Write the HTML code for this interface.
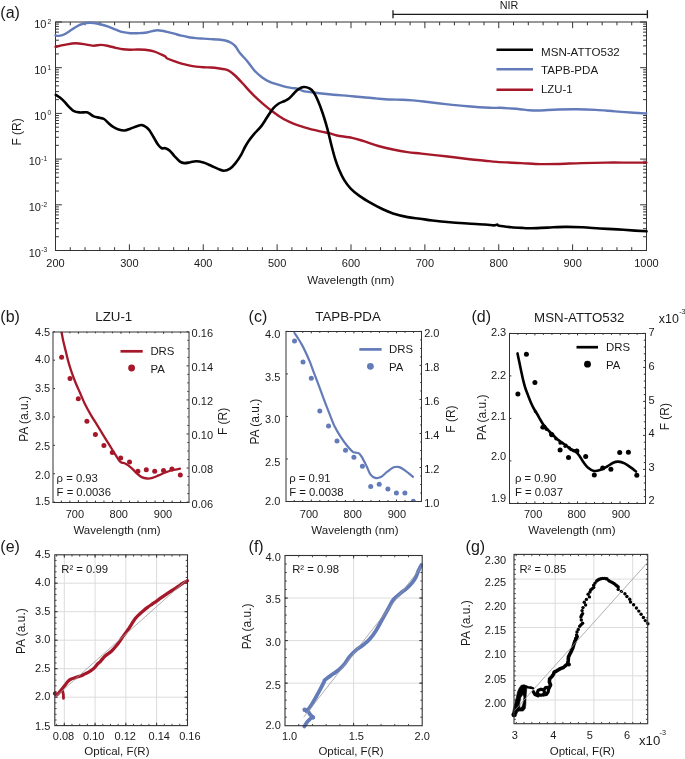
<!DOCTYPE html>
<html><head><meta charset="utf-8"><title>Figure</title>
<style>html,body{margin:0;padding:0;background:#fff;overflow:hidden;width:685px;height:759px;}svg{display:block;will-change:transform;}text{font-family:"Liberation Sans", sans-serif;}</style>
</head><body>
<svg width="685" height="759" viewBox="0 0 685 759" font-family='"Liberation Sans", sans-serif'>
<line x1="70.28" y1="250.5" x2="70.28" y2="247.2" stroke="#333" stroke-width="1"/>
<line x1="70.28" y1="22" x2="70.28" y2="25.3" stroke="#333" stroke-width="1"/>
<line x1="85.05" y1="250.5" x2="85.05" y2="247.2" stroke="#333" stroke-width="1"/>
<line x1="85.05" y1="22" x2="85.05" y2="25.3" stroke="#333" stroke-width="1"/>
<line x1="99.83" y1="250.5" x2="99.83" y2="247.2" stroke="#333" stroke-width="1"/>
<line x1="99.83" y1="22" x2="99.83" y2="25.3" stroke="#333" stroke-width="1"/>
<line x1="114.6" y1="250.5" x2="114.6" y2="247.2" stroke="#333" stroke-width="1"/>
<line x1="114.6" y1="22" x2="114.6" y2="25.3" stroke="#333" stroke-width="1"/>
<line x1="129.38" y1="250.5" x2="129.38" y2="244.3" stroke="#333" stroke-width="1"/>
<line x1="129.38" y1="22" x2="129.38" y2="28.2" stroke="#333" stroke-width="1"/>
<line x1="144.15" y1="250.5" x2="144.15" y2="247.2" stroke="#333" stroke-width="1"/>
<line x1="144.15" y1="22" x2="144.15" y2="25.3" stroke="#333" stroke-width="1"/>
<line x1="158.93" y1="250.5" x2="158.93" y2="247.2" stroke="#333" stroke-width="1"/>
<line x1="158.93" y1="22" x2="158.93" y2="25.3" stroke="#333" stroke-width="1"/>
<line x1="173.7" y1="250.5" x2="173.7" y2="247.2" stroke="#333" stroke-width="1"/>
<line x1="173.7" y1="22" x2="173.7" y2="25.3" stroke="#333" stroke-width="1"/>
<line x1="188.47" y1="250.5" x2="188.47" y2="247.2" stroke="#333" stroke-width="1"/>
<line x1="188.47" y1="22" x2="188.47" y2="25.3" stroke="#333" stroke-width="1"/>
<line x1="203.25" y1="250.5" x2="203.25" y2="244.3" stroke="#333" stroke-width="1"/>
<line x1="203.25" y1="22" x2="203.25" y2="28.2" stroke="#333" stroke-width="1"/>
<line x1="218.03" y1="250.5" x2="218.03" y2="247.2" stroke="#333" stroke-width="1"/>
<line x1="218.03" y1="22" x2="218.03" y2="25.3" stroke="#333" stroke-width="1"/>
<line x1="232.8" y1="250.5" x2="232.8" y2="247.2" stroke="#333" stroke-width="1"/>
<line x1="232.8" y1="22" x2="232.8" y2="25.3" stroke="#333" stroke-width="1"/>
<line x1="247.57" y1="250.5" x2="247.57" y2="247.2" stroke="#333" stroke-width="1"/>
<line x1="247.57" y1="22" x2="247.57" y2="25.3" stroke="#333" stroke-width="1"/>
<line x1="262.35" y1="250.5" x2="262.35" y2="247.2" stroke="#333" stroke-width="1"/>
<line x1="262.35" y1="22" x2="262.35" y2="25.3" stroke="#333" stroke-width="1"/>
<line x1="277.12" y1="250.5" x2="277.12" y2="244.3" stroke="#333" stroke-width="1"/>
<line x1="277.12" y1="22" x2="277.12" y2="28.2" stroke="#333" stroke-width="1"/>
<line x1="291.9" y1="250.5" x2="291.9" y2="247.2" stroke="#333" stroke-width="1"/>
<line x1="291.9" y1="22" x2="291.9" y2="25.3" stroke="#333" stroke-width="1"/>
<line x1="306.68" y1="250.5" x2="306.68" y2="247.2" stroke="#333" stroke-width="1"/>
<line x1="306.68" y1="22" x2="306.68" y2="25.3" stroke="#333" stroke-width="1"/>
<line x1="321.45" y1="250.5" x2="321.45" y2="247.2" stroke="#333" stroke-width="1"/>
<line x1="321.45" y1="22" x2="321.45" y2="25.3" stroke="#333" stroke-width="1"/>
<line x1="336.23" y1="250.5" x2="336.23" y2="247.2" stroke="#333" stroke-width="1"/>
<line x1="336.23" y1="22" x2="336.23" y2="25.3" stroke="#333" stroke-width="1"/>
<line x1="351" y1="250.5" x2="351" y2="244.3" stroke="#333" stroke-width="1"/>
<line x1="351" y1="22" x2="351" y2="28.2" stroke="#333" stroke-width="1"/>
<line x1="365.77" y1="250.5" x2="365.77" y2="247.2" stroke="#333" stroke-width="1"/>
<line x1="365.77" y1="22" x2="365.77" y2="25.3" stroke="#333" stroke-width="1"/>
<line x1="380.55" y1="250.5" x2="380.55" y2="247.2" stroke="#333" stroke-width="1"/>
<line x1="380.55" y1="22" x2="380.55" y2="25.3" stroke="#333" stroke-width="1"/>
<line x1="395.32" y1="250.5" x2="395.32" y2="247.2" stroke="#333" stroke-width="1"/>
<line x1="395.32" y1="22" x2="395.32" y2="25.3" stroke="#333" stroke-width="1"/>
<line x1="410.1" y1="250.5" x2="410.1" y2="247.2" stroke="#333" stroke-width="1"/>
<line x1="410.1" y1="22" x2="410.1" y2="25.3" stroke="#333" stroke-width="1"/>
<line x1="424.88" y1="250.5" x2="424.88" y2="244.3" stroke="#333" stroke-width="1"/>
<line x1="424.88" y1="22" x2="424.88" y2="28.2" stroke="#333" stroke-width="1"/>
<line x1="439.65" y1="250.5" x2="439.65" y2="247.2" stroke="#333" stroke-width="1"/>
<line x1="439.65" y1="22" x2="439.65" y2="25.3" stroke="#333" stroke-width="1"/>
<line x1="454.43" y1="250.5" x2="454.43" y2="247.2" stroke="#333" stroke-width="1"/>
<line x1="454.43" y1="22" x2="454.43" y2="25.3" stroke="#333" stroke-width="1"/>
<line x1="469.2" y1="250.5" x2="469.2" y2="247.2" stroke="#333" stroke-width="1"/>
<line x1="469.2" y1="22" x2="469.2" y2="25.3" stroke="#333" stroke-width="1"/>
<line x1="483.98" y1="250.5" x2="483.98" y2="247.2" stroke="#333" stroke-width="1"/>
<line x1="483.98" y1="22" x2="483.98" y2="25.3" stroke="#333" stroke-width="1"/>
<line x1="498.75" y1="250.5" x2="498.75" y2="244.3" stroke="#333" stroke-width="1"/>
<line x1="498.75" y1="22" x2="498.75" y2="28.2" stroke="#333" stroke-width="1"/>
<line x1="513.52" y1="250.5" x2="513.52" y2="247.2" stroke="#333" stroke-width="1"/>
<line x1="513.52" y1="22" x2="513.52" y2="25.3" stroke="#333" stroke-width="1"/>
<line x1="528.3" y1="250.5" x2="528.3" y2="247.2" stroke="#333" stroke-width="1"/>
<line x1="528.3" y1="22" x2="528.3" y2="25.3" stroke="#333" stroke-width="1"/>
<line x1="543.08" y1="250.5" x2="543.08" y2="247.2" stroke="#333" stroke-width="1"/>
<line x1="543.08" y1="22" x2="543.08" y2="25.3" stroke="#333" stroke-width="1"/>
<line x1="557.85" y1="250.5" x2="557.85" y2="247.2" stroke="#333" stroke-width="1"/>
<line x1="557.85" y1="22" x2="557.85" y2="25.3" stroke="#333" stroke-width="1"/>
<line x1="572.62" y1="250.5" x2="572.62" y2="244.3" stroke="#333" stroke-width="1"/>
<line x1="572.62" y1="22" x2="572.62" y2="28.2" stroke="#333" stroke-width="1"/>
<line x1="587.4" y1="250.5" x2="587.4" y2="247.2" stroke="#333" stroke-width="1"/>
<line x1="587.4" y1="22" x2="587.4" y2="25.3" stroke="#333" stroke-width="1"/>
<line x1="602.17" y1="250.5" x2="602.17" y2="247.2" stroke="#333" stroke-width="1"/>
<line x1="602.17" y1="22" x2="602.17" y2="25.3" stroke="#333" stroke-width="1"/>
<line x1="616.95" y1="250.5" x2="616.95" y2="247.2" stroke="#333" stroke-width="1"/>
<line x1="616.95" y1="22" x2="616.95" y2="25.3" stroke="#333" stroke-width="1"/>
<line x1="631.73" y1="250.5" x2="631.73" y2="247.2" stroke="#333" stroke-width="1"/>
<line x1="631.73" y1="22" x2="631.73" y2="25.3" stroke="#333" stroke-width="1"/>
<line x1="55.5" y1="236.74" x2="58.9" y2="236.74" stroke="#333" stroke-width="1"/>
<line x1="646.5" y1="236.74" x2="643.1" y2="236.74" stroke="#333" stroke-width="1"/>
<line x1="55.5" y1="228.7" x2="58.9" y2="228.7" stroke="#333" stroke-width="1"/>
<line x1="646.5" y1="228.7" x2="643.1" y2="228.7" stroke="#333" stroke-width="1"/>
<line x1="55.5" y1="222.99" x2="58.9" y2="222.99" stroke="#333" stroke-width="1"/>
<line x1="646.5" y1="222.99" x2="643.1" y2="222.99" stroke="#333" stroke-width="1"/>
<line x1="55.5" y1="218.56" x2="58.9" y2="218.56" stroke="#333" stroke-width="1"/>
<line x1="646.5" y1="218.56" x2="643.1" y2="218.56" stroke="#333" stroke-width="1"/>
<line x1="55.5" y1="214.94" x2="58.9" y2="214.94" stroke="#333" stroke-width="1"/>
<line x1="646.5" y1="214.94" x2="643.1" y2="214.94" stroke="#333" stroke-width="1"/>
<line x1="55.5" y1="211.88" x2="58.9" y2="211.88" stroke="#333" stroke-width="1"/>
<line x1="646.5" y1="211.88" x2="643.1" y2="211.88" stroke="#333" stroke-width="1"/>
<line x1="55.5" y1="209.23" x2="58.9" y2="209.23" stroke="#333" stroke-width="1"/>
<line x1="646.5" y1="209.23" x2="643.1" y2="209.23" stroke="#333" stroke-width="1"/>
<line x1="55.5" y1="206.89" x2="58.9" y2="206.89" stroke="#333" stroke-width="1"/>
<line x1="646.5" y1="206.89" x2="643.1" y2="206.89" stroke="#333" stroke-width="1"/>
<line x1="55.5" y1="204.8" x2="61.9" y2="204.8" stroke="#333" stroke-width="1"/>
<line x1="646.5" y1="204.8" x2="640.1" y2="204.8" stroke="#333" stroke-width="1"/>
<line x1="55.5" y1="191.04" x2="58.9" y2="191.04" stroke="#333" stroke-width="1"/>
<line x1="646.5" y1="191.04" x2="643.1" y2="191.04" stroke="#333" stroke-width="1"/>
<line x1="55.5" y1="183" x2="58.9" y2="183" stroke="#333" stroke-width="1"/>
<line x1="646.5" y1="183" x2="643.1" y2="183" stroke="#333" stroke-width="1"/>
<line x1="55.5" y1="177.29" x2="58.9" y2="177.29" stroke="#333" stroke-width="1"/>
<line x1="646.5" y1="177.29" x2="643.1" y2="177.29" stroke="#333" stroke-width="1"/>
<line x1="55.5" y1="172.86" x2="58.9" y2="172.86" stroke="#333" stroke-width="1"/>
<line x1="646.5" y1="172.86" x2="643.1" y2="172.86" stroke="#333" stroke-width="1"/>
<line x1="55.5" y1="169.24" x2="58.9" y2="169.24" stroke="#333" stroke-width="1"/>
<line x1="646.5" y1="169.24" x2="643.1" y2="169.24" stroke="#333" stroke-width="1"/>
<line x1="55.5" y1="166.18" x2="58.9" y2="166.18" stroke="#333" stroke-width="1"/>
<line x1="646.5" y1="166.18" x2="643.1" y2="166.18" stroke="#333" stroke-width="1"/>
<line x1="55.5" y1="163.53" x2="58.9" y2="163.53" stroke="#333" stroke-width="1"/>
<line x1="646.5" y1="163.53" x2="643.1" y2="163.53" stroke="#333" stroke-width="1"/>
<line x1="55.5" y1="161.19" x2="58.9" y2="161.19" stroke="#333" stroke-width="1"/>
<line x1="646.5" y1="161.19" x2="643.1" y2="161.19" stroke="#333" stroke-width="1"/>
<line x1="55.5" y1="159.1" x2="61.9" y2="159.1" stroke="#333" stroke-width="1"/>
<line x1="646.5" y1="159.1" x2="640.1" y2="159.1" stroke="#333" stroke-width="1"/>
<line x1="55.5" y1="145.34" x2="58.9" y2="145.34" stroke="#333" stroke-width="1"/>
<line x1="646.5" y1="145.34" x2="643.1" y2="145.34" stroke="#333" stroke-width="1"/>
<line x1="55.5" y1="137.3" x2="58.9" y2="137.3" stroke="#333" stroke-width="1"/>
<line x1="646.5" y1="137.3" x2="643.1" y2="137.3" stroke="#333" stroke-width="1"/>
<line x1="55.5" y1="131.59" x2="58.9" y2="131.59" stroke="#333" stroke-width="1"/>
<line x1="646.5" y1="131.59" x2="643.1" y2="131.59" stroke="#333" stroke-width="1"/>
<line x1="55.5" y1="127.16" x2="58.9" y2="127.16" stroke="#333" stroke-width="1"/>
<line x1="646.5" y1="127.16" x2="643.1" y2="127.16" stroke="#333" stroke-width="1"/>
<line x1="55.5" y1="123.54" x2="58.9" y2="123.54" stroke="#333" stroke-width="1"/>
<line x1="646.5" y1="123.54" x2="643.1" y2="123.54" stroke="#333" stroke-width="1"/>
<line x1="55.5" y1="120.48" x2="58.9" y2="120.48" stroke="#333" stroke-width="1"/>
<line x1="646.5" y1="120.48" x2="643.1" y2="120.48" stroke="#333" stroke-width="1"/>
<line x1="55.5" y1="117.83" x2="58.9" y2="117.83" stroke="#333" stroke-width="1"/>
<line x1="646.5" y1="117.83" x2="643.1" y2="117.83" stroke="#333" stroke-width="1"/>
<line x1="55.5" y1="115.49" x2="58.9" y2="115.49" stroke="#333" stroke-width="1"/>
<line x1="646.5" y1="115.49" x2="643.1" y2="115.49" stroke="#333" stroke-width="1"/>
<line x1="55.5" y1="113.4" x2="61.9" y2="113.4" stroke="#333" stroke-width="1"/>
<line x1="646.5" y1="113.4" x2="640.1" y2="113.4" stroke="#333" stroke-width="1"/>
<line x1="55.5" y1="99.64" x2="58.9" y2="99.64" stroke="#333" stroke-width="1"/>
<line x1="646.5" y1="99.64" x2="643.1" y2="99.64" stroke="#333" stroke-width="1"/>
<line x1="55.5" y1="91.6" x2="58.9" y2="91.6" stroke="#333" stroke-width="1"/>
<line x1="646.5" y1="91.6" x2="643.1" y2="91.6" stroke="#333" stroke-width="1"/>
<line x1="55.5" y1="85.89" x2="58.9" y2="85.89" stroke="#333" stroke-width="1"/>
<line x1="646.5" y1="85.89" x2="643.1" y2="85.89" stroke="#333" stroke-width="1"/>
<line x1="55.5" y1="81.46" x2="58.9" y2="81.46" stroke="#333" stroke-width="1"/>
<line x1="646.5" y1="81.46" x2="643.1" y2="81.46" stroke="#333" stroke-width="1"/>
<line x1="55.5" y1="77.84" x2="58.9" y2="77.84" stroke="#333" stroke-width="1"/>
<line x1="646.5" y1="77.84" x2="643.1" y2="77.84" stroke="#333" stroke-width="1"/>
<line x1="55.5" y1="74.78" x2="58.9" y2="74.78" stroke="#333" stroke-width="1"/>
<line x1="646.5" y1="74.78" x2="643.1" y2="74.78" stroke="#333" stroke-width="1"/>
<line x1="55.5" y1="72.13" x2="58.9" y2="72.13" stroke="#333" stroke-width="1"/>
<line x1="646.5" y1="72.13" x2="643.1" y2="72.13" stroke="#333" stroke-width="1"/>
<line x1="55.5" y1="69.79" x2="58.9" y2="69.79" stroke="#333" stroke-width="1"/>
<line x1="646.5" y1="69.79" x2="643.1" y2="69.79" stroke="#333" stroke-width="1"/>
<line x1="55.5" y1="67.7" x2="61.9" y2="67.7" stroke="#333" stroke-width="1"/>
<line x1="646.5" y1="67.7" x2="640.1" y2="67.7" stroke="#333" stroke-width="1"/>
<line x1="55.5" y1="53.94" x2="58.9" y2="53.94" stroke="#333" stroke-width="1"/>
<line x1="646.5" y1="53.94" x2="643.1" y2="53.94" stroke="#333" stroke-width="1"/>
<line x1="55.5" y1="45.9" x2="58.9" y2="45.9" stroke="#333" stroke-width="1"/>
<line x1="646.5" y1="45.9" x2="643.1" y2="45.9" stroke="#333" stroke-width="1"/>
<line x1="55.5" y1="40.19" x2="58.9" y2="40.19" stroke="#333" stroke-width="1"/>
<line x1="646.5" y1="40.19" x2="643.1" y2="40.19" stroke="#333" stroke-width="1"/>
<line x1="55.5" y1="35.76" x2="58.9" y2="35.76" stroke="#333" stroke-width="1"/>
<line x1="646.5" y1="35.76" x2="643.1" y2="35.76" stroke="#333" stroke-width="1"/>
<line x1="55.5" y1="32.14" x2="58.9" y2="32.14" stroke="#333" stroke-width="1"/>
<line x1="646.5" y1="32.14" x2="643.1" y2="32.14" stroke="#333" stroke-width="1"/>
<line x1="55.5" y1="29.08" x2="58.9" y2="29.08" stroke="#333" stroke-width="1"/>
<line x1="646.5" y1="29.08" x2="643.1" y2="29.08" stroke="#333" stroke-width="1"/>
<line x1="55.5" y1="26.43" x2="58.9" y2="26.43" stroke="#333" stroke-width="1"/>
<line x1="646.5" y1="26.43" x2="643.1" y2="26.43" stroke="#333" stroke-width="1"/>
<line x1="55.5" y1="24.09" x2="58.9" y2="24.09" stroke="#333" stroke-width="1"/>
<line x1="646.5" y1="24.09" x2="643.1" y2="24.09" stroke="#333" stroke-width="1"/>
<line x1="55.5" y1="22" x2="61.9" y2="22" stroke="#333" stroke-width="1"/>
<line x1="646.5" y1="22" x2="640.1" y2="22" stroke="#333" stroke-width="1"/>
<rect x="55.5" y="22" width="591" height="228.5" fill="none" stroke="#333" stroke-width="1"/>
<text x="55.5" y="267" font-size="11" text-anchor="middle" fill="#1a1a1a" >200</text>
<text x="129.38" y="267" font-size="11" text-anchor="middle" fill="#1a1a1a" >300</text>
<text x="203.25" y="267" font-size="11" text-anchor="middle" fill="#1a1a1a" >400</text>
<text x="277.12" y="267" font-size="11" text-anchor="middle" fill="#1a1a1a" >500</text>
<text x="351" y="267" font-size="11" text-anchor="middle" fill="#1a1a1a" >600</text>
<text x="424.88" y="267" font-size="11" text-anchor="middle" fill="#1a1a1a" >700</text>
<text x="498.75" y="267" font-size="11" text-anchor="middle" fill="#1a1a1a" >800</text>
<text x="572.62" y="267" font-size="11" text-anchor="middle" fill="#1a1a1a" >900</text>
<text x="646.5" y="267" font-size="11" text-anchor="middle" fill="#1a1a1a" >1000</text>
<text x="350.8" y="284.4" font-size="11.5" text-anchor="middle" fill="#1a1a1a" >Wavelength (nm)</text>
<text x="46.4" y="28.2" font-size="11" text-anchor="end" fill="#1a1a1a" >10</text>
<text x="47.4" y="23.8" font-size="6.6" text-anchor="start" fill="#1a1a1a" >2</text>
<text x="46.4" y="73.9" font-size="11" text-anchor="end" fill="#1a1a1a" >10</text>
<text x="47.4" y="69.5" font-size="6.6" text-anchor="start" fill="#1a1a1a" >1</text>
<text x="46.4" y="119.6" font-size="11" text-anchor="end" fill="#1a1a1a" >10</text>
<text x="47.4" y="115.2" font-size="6.6" text-anchor="start" fill="#1a1a1a" >0</text>
<text x="40.9" y="165.3" font-size="11" text-anchor="end" fill="#1a1a1a" >10</text>
<text x="41.2" y="160.9" font-size="6.6" text-anchor="start" fill="#1a1a1a" >-1</text>
<text x="40.9" y="211" font-size="11" text-anchor="end" fill="#1a1a1a" >10</text>
<text x="41.2" y="206.6" font-size="6.6" text-anchor="start" fill="#1a1a1a" >-2</text>
<text x="40.9" y="256.7" font-size="11" text-anchor="end" fill="#1a1a1a" >10</text>
<text x="41.2" y="252.3" font-size="6.6" text-anchor="start" fill="#1a1a1a" >-3</text>
<text x="0" y="0" font-size="12" text-anchor="middle" fill="#1a1a1a" transform="translate(21,131.9) rotate(-90)">F (R)</text>
<text x="0.3" y="18.4" font-size="16" text-anchor="start" fill="#1a1a1a" >(a)</text>
<line x1="393" y1="14.3" x2="647.4" y2="14.3" stroke="#1a1a1a" stroke-width="1.3"/>
<line x1="393" y1="10.2" x2="393" y2="18.3" stroke="#1a1a1a" stroke-width="1.3"/>
<line x1="647.4" y1="10.2" x2="647.4" y2="18.3" stroke="#1a1a1a" stroke-width="1.3"/>
<text x="509" y="8.8" font-size="10.8" text-anchor="middle" fill="#1a1a1a" >NIR</text>
<line x1="496.5" y1="49.7" x2="533" y2="49.7" stroke="#000" stroke-width="2.5"/>
<line x1="496.5" y1="69.3" x2="533" y2="69.3" stroke="#647bb9" stroke-width="2.5"/>
<line x1="496.5" y1="89.8" x2="533" y2="89.8" stroke="#a5182a" stroke-width="2.5"/>
<text x="541" y="55.8" font-size="11.6" text-anchor="start" fill="#1a1a1a" >MSN-ATTO532</text>
<text x="541" y="74.2" font-size="11.6" text-anchor="start" fill="#1a1a1a" >TAPB-PDA</text>
<text x="541" y="93.2" font-size="11.4" text-anchor="start" fill="#1a1a1a" >LZU-1</text>
<path d="M55.5,35.4 C56.05,35.48 57.38,36.05 58.8,35.9 C60.22,35.75 61.82,35.55 64,34.5 C66.18,33.45 69.37,31.15 71.9,29.6 C74.43,28.05 76.77,26.3 79.2,25.2 C81.63,24.1 84.07,23.37 86.5,23 C88.93,22.63 91.37,22.75 93.8,23 C96.23,23.25 98.67,23.88 101.1,24.5 C103.53,25.12 105.97,25.85 108.4,26.7 C110.83,27.55 113.27,28.68 115.7,29.6 C118.13,30.52 120.57,31.6 123,32.2 C125.43,32.8 127.87,33.03 130.3,33.2 C132.73,33.37 135.15,33.27 137.6,33.2 C140.05,33.13 142.55,33.15 145,32.8 C147.45,32.45 150.12,31.52 152.3,31.1 C154.48,30.68 155.67,30.18 158.1,30.3 C160.53,30.42 164.22,31.23 166.9,31.8 C169.58,32.37 171.77,33.05 174.2,33.7 C176.63,34.35 179.07,35.12 181.5,35.7 C183.93,36.28 186.37,36.8 188.8,37.2 C191.23,37.6 193.67,37.87 196.1,38.1 C198.53,38.33 200.97,38.43 203.4,38.6 C205.83,38.77 208.27,38.95 210.7,39.1 C213.13,39.25 215.57,39.27 218,39.5 C220.43,39.73 223.12,39.97 225.3,40.5 C227.48,41.03 229.4,41.72 231.1,42.7 C232.8,43.68 234.03,44.68 235.5,46.4 C236.97,48.12 237.93,50.53 239.9,53 C241.87,55.47 244.85,58.25 247.3,61.2 C249.75,64.15 252.17,68.03 254.6,70.7 C257.03,73.37 259.47,75.38 261.9,77.2 C264.33,79.02 266.77,80.43 269.2,81.6 C271.63,82.77 274.07,83.4 276.5,84.2 C278.93,85 281.37,85.78 283.8,86.4 C286.23,87.02 288.67,87.47 291.1,87.9 C293.53,88.33 296.15,88.42 298.4,89 C300.65,89.58 301.13,90.7 304.6,91.4 C308.07,92.1 314.33,92.65 319.2,93.2 C324.07,93.75 328.93,94.25 333.8,94.7 C338.67,95.15 343.53,95.48 348.4,95.9 C353.27,96.32 358.13,96.75 363,97.2 C367.87,97.65 373.1,98.22 377.6,98.6 C382.1,98.98 385.95,99.32 390,99.5 C394.05,99.68 398.1,99.55 401.9,99.7 C405.7,99.85 409.15,100.1 412.8,100.4 C416.45,100.7 418.32,100.88 423.8,101.5 C429.28,102.12 438.4,103.3 445.7,104.1 C453,104.9 460.3,105.68 467.6,106.3 C474.9,106.92 484.03,107.55 489.5,107.8 C494.97,108.05 496.75,107.68 500.4,107.8 C504.05,107.92 508.13,108.27 511.4,108.5 C514.67,108.73 516.98,108.9 520,109.2 C523.02,109.5 526.33,110.08 529.5,110.3 C532.67,110.52 534.25,110.63 539,110.5 C543.75,110.37 551.67,109.72 558,109.5 C564.33,109.28 570.68,109.13 577,109.2 C583.32,109.27 589.58,109.53 595.9,109.9 C602.22,110.27 608.57,110.92 614.9,111.4 C621.23,111.88 628.68,112.45 633.9,112.8 C639.12,113.15 644.15,113.38 646.2,113.5" fill="none" stroke="#647bb9" stroke-width="2.4" stroke-linejoin="round" stroke-linecap="round" />
<path d="M55.5,46.8 C57.02,46.48 61.27,45.5 64.6,44.9 C67.93,44.3 71.85,43.25 75.5,43.2 C79.15,43.15 83.45,44.18 86.5,44.6 C89.55,45.02 91.37,45.65 93.8,45.7 C96.23,45.75 98.67,44.85 101.1,44.9 C103.53,44.95 105.97,45.52 108.4,46 C110.83,46.48 113.27,47.25 115.7,47.8 C118.13,48.35 120.57,48.98 123,49.3 C125.43,49.62 127.87,49.67 130.3,49.7 C132.73,49.73 135.15,49.48 137.6,49.5 C140.05,49.52 142.3,49.5 145,49.8 C147.7,50.1 151.12,50.53 153.8,51.3 C156.48,52.07 159.17,53.52 161.1,54.4 C163.03,55.28 164.43,55.95 165.4,56.6 C166.37,57.25 165.43,57.53 166.9,58.3 C168.37,59.07 171.77,60.3 174.2,61.2 C176.63,62.1 179.07,63 181.5,63.7 C183.93,64.4 186.37,64.92 188.8,65.4 C191.23,65.88 193.67,66.3 196.1,66.6 C198.53,66.9 200.97,67.05 203.4,67.2 C205.83,67.35 208.27,67.33 210.7,67.5 C213.13,67.67 215.57,67.88 218,68.2 C220.43,68.52 223.35,68.9 225.3,69.4 C227.25,69.9 228.08,70.18 229.7,71.2 C231.32,72.22 232.9,73.53 235,75.5 C237.1,77.47 239.87,80.4 242.3,83 C244.73,85.6 247.17,88.53 249.6,91.1 C252.03,93.67 254.47,96.1 256.9,98.4 C259.33,100.7 261.77,102.83 264.2,104.9 C266.63,106.97 269.07,108.97 271.5,110.8 C273.93,112.63 276.37,114.32 278.8,115.9 C281.23,117.48 283.67,119.02 286.1,120.3 C288.53,121.58 290.97,122.63 293.4,123.6 C295.83,124.57 298.27,125.32 300.7,126.1 C303.13,126.88 305.57,127.62 308,128.3 C310.43,128.98 312.87,129.6 315.3,130.2 C317.73,130.8 320.17,131.37 322.6,131.9 C325.03,132.43 327.5,132.8 329.9,133.4 C332.3,134 333.3,134.77 337,135.5 C340.7,136.23 347.63,136.85 352.1,137.8 C356.57,138.75 359.42,139.83 363.8,141.2 C368.18,142.57 373.53,144.62 378.4,146 C383.27,147.38 388.13,148.48 393,149.5 C397.87,150.52 402.87,151.42 407.6,152.1 C412.33,152.78 415.08,152.9 421.4,153.6 C427.72,154.3 437.47,155.37 445.5,156.3 C453.53,157.23 463.02,158.47 469.6,159.2 C476.18,159.93 480.43,160.25 485,160.7 C489.57,161.15 490.98,161.5 497,161.9 C503.02,162.3 513.87,162.73 521.1,163.1 C528.33,163.47 534.37,163.95 540.4,164.1 C546.43,164.25 550.47,164.17 557.3,164 C564.13,163.83 573.37,163.33 581.4,163.1 C589.43,162.87 597.47,162.68 605.5,162.6 C613.53,162.52 622.78,162.6 629.6,162.6 C636.42,162.6 643.6,162.6 646.4,162.6" fill="none" stroke="#a5182a" stroke-width="2.4" stroke-linejoin="round" stroke-linecap="round" />
<path d="M55.8,94.9 C56.53,95.38 58.73,96.65 60.2,97.8 C61.67,98.95 63.13,100.28 64.6,101.8 C66.07,103.32 67.53,105.4 69,106.9 C70.47,108.4 71.7,109.88 73.4,110.8 C75.1,111.72 77.02,112.15 79.2,112.4 C81.38,112.65 84.8,112.12 86.5,112.3 C88.2,112.48 88.18,112.82 89.4,113.5 C90.62,114.18 92.1,115.68 93.8,116.4 C95.5,117.12 97.9,117.37 99.6,117.8 C101.3,118.23 102.53,118.13 104,119 C105.47,119.87 106.93,121.73 108.4,123 C109.87,124.27 111.1,125.52 112.8,126.6 C114.5,127.68 116.65,128.85 118.6,129.5 C120.55,130.15 122.55,130.62 124.5,130.5 C126.45,130.38 128.12,129.57 130.3,128.8 C132.48,128.03 135.65,126.52 137.6,125.9 C139.55,125.28 140.53,124.87 142,125.1 C143.47,125.33 145.17,126.45 146.4,127.3 C147.63,128.15 148.17,128.5 149.4,130.2 C150.63,131.9 152.35,135.07 153.8,137.5 C155.25,139.93 156.77,143.02 158.1,144.8 C159.43,146.58 160.58,147.63 161.8,148.2 C163.02,148.77 164.07,147.78 165.4,148.2 C166.73,148.62 168.33,149.43 169.8,150.7 C171.27,151.97 172.5,153.98 174.2,155.8 C175.9,157.62 178.3,160.38 180,161.6 C181.7,162.82 182.68,162.98 184.4,163.1 C186.12,163.22 188.35,162.6 190.3,162.3 C192.25,162 193.92,161.25 196.1,161.3 C198.28,161.35 200.97,161.9 203.4,162.6 C205.83,163.3 208.27,164.45 210.7,165.5 C213.13,166.55 215.82,168.02 218,168.9 C220.18,169.78 221.85,170.8 223.8,170.8 C225.75,170.8 227.75,170.18 229.7,168.9 C231.65,167.62 233.55,165.53 235.5,163.1 C237.45,160.67 239.82,156.98 241.4,154.3 C242.98,151.62 243.73,149.3 245,147 C246.27,144.7 247.5,142.65 249,140.5 C250.5,138.35 251.95,136.5 254,134.1 C256.05,131.7 259.12,128.9 261.3,126.1 C263.48,123.3 265.15,120.22 267.1,117.3 C269.05,114.38 271.05,110.9 273,108.6 C274.95,106.3 276.87,104.77 278.8,103.5 C280.73,102.23 282.9,101.85 284.6,101 C286.3,100.15 287.53,99.57 289,98.4 C290.47,97.23 291.93,95.47 293.4,94 C294.87,92.53 296.1,90.77 297.8,89.6 C299.5,88.43 301.65,87.2 303.6,87 C305.55,86.8 307.8,87.48 309.5,88.4 C311.2,89.32 312.35,90.35 313.8,92.5 C315.25,94.65 316.73,97.88 318.2,101.3 C319.67,104.72 321.27,109.12 322.6,113 C323.93,116.88 325.23,121.32 326.2,124.6 C327.17,127.88 327.48,129.08 328.4,132.7 C329.32,136.32 330.55,141.85 331.7,146.3 C332.85,150.75 334.08,155.52 335.3,159.4 C336.52,163.28 337.53,166.18 339,169.6 C340.47,173.02 342.15,176.73 344.1,179.9 C346.05,183.07 348.15,185.93 350.7,188.6 C353.25,191.27 356,193.47 359.4,195.9 C362.8,198.33 367.2,200.97 371.1,203.2 C375,205.43 379.15,207.6 382.8,209.3 C386.45,211 388.87,212.1 393,213.4 C397.13,214.7 403.1,216.22 407.6,217.1 C412.1,217.98 415.85,218.13 420,218.7 C424.15,219.27 427.5,219.9 432.5,220.5 C437.5,221.1 444.17,221.8 450,222.3 C455.83,222.8 461.67,223.13 467.5,223.5 C473.33,223.87 480.62,224.18 485,224.5 C489.38,224.82 491.75,225.38 493.8,225.4 C495.85,225.42 496.43,224.53 497.3,224.6 C498.17,224.67 496.67,225.37 499,225.8 C501.33,226.23 507.2,226.83 511.3,227.2 C515.4,227.57 520.48,227.82 523.6,228 C526.72,228.18 526.02,228.37 530,228.3 C533.98,228.23 541.67,227.83 547.5,227.6 C553.33,227.37 559.17,226.95 565,226.9 C570.83,226.85 576.67,227.03 582.5,227.3 C588.33,227.57 594.15,228.15 600,228.5 C605.85,228.85 611.77,229.05 617.6,229.4 C623.43,229.75 630.18,230.28 635,230.6 C639.82,230.92 644.58,231.18 646.5,231.3" fill="none" stroke="#000" stroke-width="2.6" stroke-linejoin="round" stroke-linecap="round" />
<line x1="61.36" y1="502.1" x2="61.36" y2="500.6" stroke="#333" stroke-width="1.0"/>
<line x1="61.36" y1="331.8" x2="61.36" y2="333.3" stroke="#333" stroke-width="1.0"/>
<line x1="69.88" y1="502.1" x2="69.88" y2="500.6" stroke="#333" stroke-width="1.0"/>
<line x1="69.88" y1="331.8" x2="69.88" y2="333.3" stroke="#333" stroke-width="1.0"/>
<line x1="78.4" y1="502.1" x2="78.4" y2="500.1" stroke="#333" stroke-width="1.0"/>
<line x1="78.4" y1="331.8" x2="78.4" y2="333.8" stroke="#333" stroke-width="1.0"/>
<line x1="86.92" y1="502.1" x2="86.92" y2="500.6" stroke="#333" stroke-width="1.0"/>
<line x1="86.92" y1="331.8" x2="86.92" y2="333.3" stroke="#333" stroke-width="1.0"/>
<line x1="95.44" y1="502.1" x2="95.44" y2="500.6" stroke="#333" stroke-width="1.0"/>
<line x1="95.44" y1="331.8" x2="95.44" y2="333.3" stroke="#333" stroke-width="1.0"/>
<line x1="103.96" y1="502.1" x2="103.96" y2="500.6" stroke="#333" stroke-width="1.0"/>
<line x1="103.96" y1="331.8" x2="103.96" y2="333.3" stroke="#333" stroke-width="1.0"/>
<line x1="112.48" y1="502.1" x2="112.48" y2="500.6" stroke="#333" stroke-width="1.0"/>
<line x1="112.48" y1="331.8" x2="112.48" y2="333.3" stroke="#333" stroke-width="1.0"/>
<line x1="121" y1="502.1" x2="121" y2="500.1" stroke="#333" stroke-width="1.0"/>
<line x1="121" y1="331.8" x2="121" y2="333.8" stroke="#333" stroke-width="1.0"/>
<line x1="129.52" y1="502.1" x2="129.52" y2="500.6" stroke="#333" stroke-width="1.0"/>
<line x1="129.52" y1="331.8" x2="129.52" y2="333.3" stroke="#333" stroke-width="1.0"/>
<line x1="138.04" y1="502.1" x2="138.04" y2="500.6" stroke="#333" stroke-width="1.0"/>
<line x1="138.04" y1="331.8" x2="138.04" y2="333.3" stroke="#333" stroke-width="1.0"/>
<line x1="146.56" y1="502.1" x2="146.56" y2="500.6" stroke="#333" stroke-width="1.0"/>
<line x1="146.56" y1="331.8" x2="146.56" y2="333.3" stroke="#333" stroke-width="1.0"/>
<line x1="155.08" y1="502.1" x2="155.08" y2="500.6" stroke="#333" stroke-width="1.0"/>
<line x1="155.08" y1="331.8" x2="155.08" y2="333.3" stroke="#333" stroke-width="1.0"/>
<line x1="163.6" y1="502.1" x2="163.6" y2="500.1" stroke="#333" stroke-width="1.0"/>
<line x1="163.6" y1="331.8" x2="163.6" y2="333.8" stroke="#333" stroke-width="1.0"/>
<line x1="172.12" y1="502.1" x2="172.12" y2="500.6" stroke="#333" stroke-width="1.0"/>
<line x1="172.12" y1="331.8" x2="172.12" y2="333.3" stroke="#333" stroke-width="1.0"/>
<line x1="180.64" y1="502.1" x2="180.64" y2="500.6" stroke="#333" stroke-width="1.0"/>
<line x1="180.64" y1="331.8" x2="180.64" y2="333.3" stroke="#333" stroke-width="1.0"/>
<line x1="53.2" y1="331.8" x2="55" y2="331.8" stroke="#333" stroke-width="1.0"/>
<line x1="53.2" y1="360.18" x2="55" y2="360.18" stroke="#333" stroke-width="1.0"/>
<line x1="53.2" y1="388.57" x2="55" y2="388.57" stroke="#333" stroke-width="1.0"/>
<line x1="53.2" y1="416.95" x2="55" y2="416.95" stroke="#333" stroke-width="1.0"/>
<line x1="53.2" y1="445.33" x2="55" y2="445.33" stroke="#333" stroke-width="1.0"/>
<line x1="53.2" y1="473.72" x2="55" y2="473.72" stroke="#333" stroke-width="1.0"/>
<line x1="53.2" y1="502.1" x2="55" y2="502.1" stroke="#333" stroke-width="1.0"/>
<line x1="188.8" y1="331.8" x2="186.6" y2="331.8" stroke="#333" stroke-width="1.0"/>
<line x1="188.8" y1="340.31" x2="187.3" y2="340.31" stroke="#333" stroke-width="1.0"/>
<line x1="188.8" y1="348.83" x2="187.3" y2="348.83" stroke="#333" stroke-width="1.0"/>
<line x1="188.8" y1="357.35" x2="187.3" y2="357.35" stroke="#333" stroke-width="1.0"/>
<line x1="188.8" y1="365.86" x2="186.6" y2="365.86" stroke="#333" stroke-width="1.0"/>
<line x1="188.8" y1="374.38" x2="187.3" y2="374.38" stroke="#333" stroke-width="1.0"/>
<line x1="188.8" y1="382.89" x2="187.3" y2="382.89" stroke="#333" stroke-width="1.0"/>
<line x1="188.8" y1="391.41" x2="187.3" y2="391.41" stroke="#333" stroke-width="1.0"/>
<line x1="188.8" y1="399.92" x2="186.6" y2="399.92" stroke="#333" stroke-width="1.0"/>
<line x1="188.8" y1="408.44" x2="187.3" y2="408.44" stroke="#333" stroke-width="1.0"/>
<line x1="188.8" y1="416.95" x2="187.3" y2="416.95" stroke="#333" stroke-width="1.0"/>
<line x1="188.8" y1="425.47" x2="187.3" y2="425.47" stroke="#333" stroke-width="1.0"/>
<line x1="188.8" y1="433.98" x2="186.6" y2="433.98" stroke="#333" stroke-width="1.0"/>
<line x1="188.8" y1="442.5" x2="187.3" y2="442.5" stroke="#333" stroke-width="1.0"/>
<line x1="188.8" y1="451.01" x2="187.3" y2="451.01" stroke="#333" stroke-width="1.0"/>
<line x1="188.8" y1="459.52" x2="187.3" y2="459.52" stroke="#333" stroke-width="1.0"/>
<line x1="188.8" y1="468.04" x2="186.6" y2="468.04" stroke="#333" stroke-width="1.0"/>
<line x1="188.8" y1="476.56" x2="187.3" y2="476.56" stroke="#333" stroke-width="1.0"/>
<line x1="188.8" y1="485.07" x2="187.3" y2="485.07" stroke="#333" stroke-width="1.0"/>
<line x1="188.8" y1="493.59" x2="187.3" y2="493.59" stroke="#333" stroke-width="1.0"/>
<line x1="188.8" y1="502.1" x2="186.6" y2="502.1" stroke="#333" stroke-width="1.0"/>
<clipPath id="clip264"><rect x="53" y="332" width="136" height="170.5"/></clipPath>
<g clip-path="url(#clip264)">
<path d="M61.6,332.2 C61.87,333.63 62.5,337.6 63.2,340.8 C63.9,344 64.93,347.88 65.8,351.4 C66.67,354.92 67.42,358.4 68.4,361.9 C69.38,365.4 70.48,368.88 71.7,372.4 C72.92,375.92 74.27,379.48 75.7,383 C77.13,386.52 78.77,390 80.3,393.5 C81.83,397 83.1,400.37 84.9,404 C86.7,407.63 89.03,411.75 91.1,415.3 C93.17,418.85 95.25,421.97 97.3,425.3 C99.35,428.63 101.37,431.98 103.4,435.3 C105.43,438.62 107.45,441.88 109.5,445.2 C111.55,448.52 114.03,452.55 115.7,455.2 C117.37,457.85 118.48,459.87 119.5,461.1 C120.52,462.33 120.78,462.15 121.8,462.6 C122.82,463.05 124.07,462.97 125.6,463.8 C127.13,464.63 129.08,465.97 131,467.6 C132.92,469.23 135.32,472.02 137.1,473.6 C138.88,475.18 140.03,476.28 141.7,477.1 C143.37,477.92 145.32,478.37 147.1,478.5 C148.88,478.63 150.48,478.42 152.4,477.9 C154.32,477.38 156.55,476.25 158.6,475.4 C160.65,474.55 162.67,473.62 164.7,472.8 C166.73,471.98 168.25,471.18 170.8,470.5 C173.35,469.82 178.47,469 180,468.7" fill="none" stroke="#a5182a" stroke-width="2.3" stroke-linejoin="round" stroke-linecap="round" />
<circle cx="61.6" cy="357.3" r="2.5" fill="#a5182a"/>
<circle cx="70" cy="378.4" r="2.5" fill="#a5182a"/>
<circle cx="78.3" cy="398.8" r="2.5" fill="#a5182a"/>
<circle cx="86.9" cy="421.3" r="2.5" fill="#a5182a"/>
<circle cx="95.4" cy="434.5" r="2.5" fill="#a5182a"/>
<circle cx="103.9" cy="445.5" r="2.5" fill="#a5182a"/>
<circle cx="112.3" cy="452.4" r="2.5" fill="#a5182a"/>
<circle cx="120.7" cy="457.9" r="2.5" fill="#a5182a"/>
<circle cx="129.5" cy="462.1" r="2.5" fill="#a5182a"/>
<circle cx="137.9" cy="471.3" r="2.5" fill="#a5182a"/>
<circle cx="146.3" cy="469.7" r="2.5" fill="#a5182a"/>
<circle cx="154.7" cy="471.3" r="2.5" fill="#a5182a"/>
<circle cx="163.5" cy="470.5" r="2.5" fill="#a5182a"/>
<circle cx="171.9" cy="469" r="2.5" fill="#a5182a"/>
<circle cx="180.3" cy="475.1" r="2.5" fill="#a5182a"/>
</g>
<line x1="53" y1="332" x2="53" y2="502.5" stroke="#333" stroke-width="1.0"/>
<line x1="189" y1="332" x2="189" y2="502.5" stroke="#333" stroke-width="1.0"/>
<line x1="52.5" y1="332" x2="189.5" y2="332" stroke="#333" stroke-width="1.0"/>
<line x1="52.5" y1="502.5" x2="189.5" y2="502.5" stroke="#333" stroke-width="1.0"/>
<line x1="120.5" y1="351.3" x2="142.7" y2="351.3" stroke="#a5182a" stroke-width="2.7"/>
<circle cx="131.6" cy="368" r="3.4" fill="#a5182a"/>
<text x="150.4" y="355.2" font-size="11.4" text-anchor="start" fill="#1a1a1a" >DRS</text>
<text x="150.4" y="373.2" font-size="11.4" text-anchor="start" fill="#1a1a1a" >PA</text>
<text x="56.6" y="481.9" font-size="11.3" text-anchor="start" fill="#1a1a1a" >&#961; = 0.93</text>
<text x="56.6" y="495.5" font-size="11.3" text-anchor="start" fill="#1a1a1a" >F = 0.0036</text>
<text x="113.8" y="321" font-size="13.3" text-anchor="middle" fill="#1a1a1a" >LZU-1</text>
<text x="0.3" y="322" font-size="16" text-anchor="start" fill="#1a1a1a" >(b)</text>
<text x="50.2" y="336.15" font-size="11" text-anchor="end" fill="#1a1a1a" >4.5</text>
<text x="50.2" y="363.25" font-size="11" text-anchor="end" fill="#1a1a1a" >4.0</text>
<text x="50.2" y="392.35" font-size="11" text-anchor="end" fill="#1a1a1a" >3.5</text>
<text x="50.2" y="420.25" font-size="11" text-anchor="end" fill="#1a1a1a" >3.0</text>
<text x="50.2" y="449.95" font-size="11" text-anchor="end" fill="#1a1a1a" >2.5</text>
<text x="50.2" y="478.55" font-size="11" text-anchor="end" fill="#1a1a1a" >2.0</text>
<text x="50.2" y="505.45" font-size="11" text-anchor="end" fill="#1a1a1a" >1.5</text>
<text x="191.6" y="337.2" font-size="11" text-anchor="start" fill="#1a1a1a" >0.16</text>
<text x="191.6" y="371.26" font-size="11" text-anchor="start" fill="#1a1a1a" >0.14</text>
<text x="191.6" y="405.32" font-size="11" text-anchor="start" fill="#1a1a1a" >0.12</text>
<text x="191.6" y="439.38" font-size="11" text-anchor="start" fill="#1a1a1a" >0.10</text>
<text x="191.6" y="473.44" font-size="11" text-anchor="start" fill="#1a1a1a" >0.08</text>
<text x="191.6" y="507.5" font-size="11" text-anchor="start" fill="#1a1a1a" >0.06</text>
<text x="74.9" y="517.6" font-size="11" text-anchor="middle" fill="#1a1a1a" >700</text>
<text x="118.7" y="517.6" font-size="11" text-anchor="middle" fill="#1a1a1a" >800</text>
<text x="163" y="517.6" font-size="11" text-anchor="middle" fill="#1a1a1a" >900</text>
<text x="117" y="533.8" font-size="11.5" text-anchor="middle" fill="#1a1a1a" >Wavelength (nm)</text>
<text x="0" y="0" font-size="12" text-anchor="middle" fill="#1a1a1a" transform="translate(28,418.9) rotate(-90)">PA (a.u.)</text>
<text x="0" y="0" font-size="12" text-anchor="middle" fill="#1a1a1a" transform="translate(226.8,421.4) rotate(-90)">F (R)</text>
<line x1="294.26" y1="501.5" x2="294.26" y2="500" stroke="#333" stroke-width="1.0"/>
<line x1="294.26" y1="331.4" x2="294.26" y2="332.9" stroke="#333" stroke-width="1.0"/>
<line x1="302.78" y1="501.5" x2="302.78" y2="500" stroke="#333" stroke-width="1.0"/>
<line x1="302.78" y1="331.4" x2="302.78" y2="332.9" stroke="#333" stroke-width="1.0"/>
<line x1="311.3" y1="501.5" x2="311.3" y2="499.5" stroke="#333" stroke-width="1.0"/>
<line x1="311.3" y1="331.4" x2="311.3" y2="333.4" stroke="#333" stroke-width="1.0"/>
<line x1="319.82" y1="501.5" x2="319.82" y2="500" stroke="#333" stroke-width="1.0"/>
<line x1="319.82" y1="331.4" x2="319.82" y2="332.9" stroke="#333" stroke-width="1.0"/>
<line x1="328.34" y1="501.5" x2="328.34" y2="500" stroke="#333" stroke-width="1.0"/>
<line x1="328.34" y1="331.4" x2="328.34" y2="332.9" stroke="#333" stroke-width="1.0"/>
<line x1="336.86" y1="501.5" x2="336.86" y2="500" stroke="#333" stroke-width="1.0"/>
<line x1="336.86" y1="331.4" x2="336.86" y2="332.9" stroke="#333" stroke-width="1.0"/>
<line x1="345.38" y1="501.5" x2="345.38" y2="500" stroke="#333" stroke-width="1.0"/>
<line x1="345.38" y1="331.4" x2="345.38" y2="332.9" stroke="#333" stroke-width="1.0"/>
<line x1="353.9" y1="501.5" x2="353.9" y2="499.5" stroke="#333" stroke-width="1.0"/>
<line x1="353.9" y1="331.4" x2="353.9" y2="333.4" stroke="#333" stroke-width="1.0"/>
<line x1="362.42" y1="501.5" x2="362.42" y2="500" stroke="#333" stroke-width="1.0"/>
<line x1="362.42" y1="331.4" x2="362.42" y2="332.9" stroke="#333" stroke-width="1.0"/>
<line x1="370.94" y1="501.5" x2="370.94" y2="500" stroke="#333" stroke-width="1.0"/>
<line x1="370.94" y1="331.4" x2="370.94" y2="332.9" stroke="#333" stroke-width="1.0"/>
<line x1="379.46" y1="501.5" x2="379.46" y2="500" stroke="#333" stroke-width="1.0"/>
<line x1="379.46" y1="331.4" x2="379.46" y2="332.9" stroke="#333" stroke-width="1.0"/>
<line x1="387.98" y1="501.5" x2="387.98" y2="500" stroke="#333" stroke-width="1.0"/>
<line x1="387.98" y1="331.4" x2="387.98" y2="332.9" stroke="#333" stroke-width="1.0"/>
<line x1="396.5" y1="501.5" x2="396.5" y2="499.5" stroke="#333" stroke-width="1.0"/>
<line x1="396.5" y1="331.4" x2="396.5" y2="333.4" stroke="#333" stroke-width="1.0"/>
<line x1="405.02" y1="501.5" x2="405.02" y2="500" stroke="#333" stroke-width="1.0"/>
<line x1="405.02" y1="331.4" x2="405.02" y2="332.9" stroke="#333" stroke-width="1.0"/>
<line x1="413.54" y1="501.5" x2="413.54" y2="500" stroke="#333" stroke-width="1.0"/>
<line x1="413.54" y1="331.4" x2="413.54" y2="332.9" stroke="#333" stroke-width="1.0"/>
<line x1="286.1" y1="331.4" x2="287.9" y2="331.4" stroke="#333" stroke-width="1.0"/>
<line x1="286.1" y1="373.92" x2="287.9" y2="373.92" stroke="#333" stroke-width="1.0"/>
<line x1="286.1" y1="416.45" x2="287.9" y2="416.45" stroke="#333" stroke-width="1.0"/>
<line x1="286.1" y1="458.98" x2="287.9" y2="458.98" stroke="#333" stroke-width="1.0"/>
<line x1="286.1" y1="501.5" x2="287.9" y2="501.5" stroke="#333" stroke-width="1.0"/>
<line x1="421.7" y1="331.4" x2="419.5" y2="331.4" stroke="#333" stroke-width="1.0"/>
<line x1="421.7" y1="339.9" x2="420.2" y2="339.9" stroke="#333" stroke-width="1.0"/>
<line x1="421.7" y1="348.41" x2="420.2" y2="348.41" stroke="#333" stroke-width="1.0"/>
<line x1="421.7" y1="356.91" x2="420.2" y2="356.91" stroke="#333" stroke-width="1.0"/>
<line x1="421.7" y1="365.42" x2="419.5" y2="365.42" stroke="#333" stroke-width="1.0"/>
<line x1="421.7" y1="373.92" x2="420.2" y2="373.92" stroke="#333" stroke-width="1.0"/>
<line x1="421.7" y1="382.43" x2="420.2" y2="382.43" stroke="#333" stroke-width="1.0"/>
<line x1="421.7" y1="390.94" x2="420.2" y2="390.94" stroke="#333" stroke-width="1.0"/>
<line x1="421.7" y1="399.44" x2="419.5" y2="399.44" stroke="#333" stroke-width="1.0"/>
<line x1="421.7" y1="407.94" x2="420.2" y2="407.94" stroke="#333" stroke-width="1.0"/>
<line x1="421.7" y1="416.45" x2="420.2" y2="416.45" stroke="#333" stroke-width="1.0"/>
<line x1="421.7" y1="424.95" x2="420.2" y2="424.95" stroke="#333" stroke-width="1.0"/>
<line x1="421.7" y1="433.46" x2="419.5" y2="433.46" stroke="#333" stroke-width="1.0"/>
<line x1="421.7" y1="441.96" x2="420.2" y2="441.96" stroke="#333" stroke-width="1.0"/>
<line x1="421.7" y1="450.47" x2="420.2" y2="450.47" stroke="#333" stroke-width="1.0"/>
<line x1="421.7" y1="458.98" x2="420.2" y2="458.98" stroke="#333" stroke-width="1.0"/>
<line x1="421.7" y1="467.48" x2="419.5" y2="467.48" stroke="#333" stroke-width="1.0"/>
<line x1="421.7" y1="475.99" x2="420.2" y2="475.99" stroke="#333" stroke-width="1.0"/>
<line x1="421.7" y1="484.49" x2="420.2" y2="484.49" stroke="#333" stroke-width="1.0"/>
<line x1="421.7" y1="493" x2="420.2" y2="493" stroke="#333" stroke-width="1.0"/>
<line x1="421.7" y1="501.5" x2="419.5" y2="501.5" stroke="#333" stroke-width="1.0"/>
<clipPath id="clip370"><rect x="286" y="331.5" width="135.5" height="170"/></clipPath>
<g clip-path="url(#clip370)">
<path d="M294.5,333 C295.1,333.92 296.83,336.48 298.1,338.5 C299.37,340.52 300.78,342.68 302.1,345.1 C303.42,347.52 304.68,350.15 306,353 C307.32,355.85 308.68,358.92 310,362.2 C311.32,365.48 312.58,369.2 313.9,372.7 C315.22,376.2 316.58,379.7 317.9,383.2 C319.22,386.7 320.5,390.2 321.8,393.7 C323.1,397.2 324.28,400.52 325.7,404.2 C327.12,407.88 328.87,412.22 330.3,415.8 C331.73,419.38 332.57,422.18 334.3,425.7 C336.03,429.22 338.57,433.55 340.7,436.9 C342.83,440.25 345.13,443.35 347.1,445.8 C349.07,448.25 351.08,450.47 352.5,451.6 C353.92,452.73 354.58,452.33 355.6,452.6 C356.62,452.87 357.6,452.53 358.6,453.2 C359.6,453.87 360.3,454.5 361.6,456.6 C362.9,458.7 364.93,462.83 366.4,465.8 C367.87,468.77 368.93,472.38 370.4,474.4 C371.87,476.42 373.47,477.45 375.2,477.9 C376.93,478.35 378.78,478.13 380.8,477.1 C382.82,476.07 385.15,473.33 387.3,471.7 C389.45,470.07 391.7,468.07 393.7,467.3 C395.7,466.53 397.43,466.6 399.3,467.1 C401.17,467.6 402.62,468.68 404.9,470.3 C407.18,471.92 411.65,475.72 413,476.8" fill="none" stroke="#647bb9" stroke-width="2.2" stroke-linejoin="round" stroke-linecap="round" />
<circle cx="294.5" cy="340.9" r="2.5" fill="#647bb9"/>
<circle cx="303" cy="361.9" r="2.5" fill="#647bb9"/>
<circle cx="311.3" cy="378.3" r="2.5" fill="#647bb9"/>
<circle cx="319.8" cy="410.9" r="2.5" fill="#647bb9"/>
<circle cx="328.5" cy="426" r="2.5" fill="#647bb9"/>
<circle cx="337" cy="441.1" r="2.5" fill="#647bb9"/>
<circle cx="345.5" cy="450.3" r="2.5" fill="#647bb9"/>
<circle cx="353.9" cy="457.3" r="2.5" fill="#647bb9"/>
<circle cx="362.4" cy="466.3" r="2.5" fill="#647bb9"/>
<circle cx="370.7" cy="486.4" r="2.5" fill="#647bb9"/>
<circle cx="379.2" cy="484.3" r="2.5" fill="#647bb9"/>
<circle cx="387.9" cy="489.1" r="2.5" fill="#647bb9"/>
<circle cx="396.4" cy="493.1" r="2.5" fill="#647bb9"/>
<circle cx="404.9" cy="493.1" r="2.5" fill="#647bb9"/>
<circle cx="413.3" cy="501.2" r="2.5" fill="#647bb9"/>
</g>
<line x1="286" y1="331.5" x2="286" y2="501.5" stroke="#333" stroke-width="1.0"/>
<line x1="421.5" y1="331.5" x2="421.5" y2="501.5" stroke="#333" stroke-width="1.0"/>
<line x1="285.5" y1="331.5" x2="422" y2="331.5" stroke="#333" stroke-width="1.0"/>
<line x1="285.5" y1="501.5" x2="422" y2="501.5" stroke="#333" stroke-width="1.0"/>
<line x1="359.3" y1="349.4" x2="381.6" y2="349.4" stroke="#647bb9" stroke-width="2.7"/>
<circle cx="370.4" cy="366.3" r="3.4" fill="#647bb9"/>
<text x="389" y="352.6" font-size="11.4" text-anchor="start" fill="#1a1a1a" >DRS</text>
<text x="389" y="371.1" font-size="11.4" text-anchor="start" fill="#1a1a1a" >PA</text>
<text x="289.2" y="481.9" font-size="11.3" text-anchor="start" fill="#1a1a1a" >&#961; = 0.91</text>
<text x="289.2" y="495.5" font-size="11.3" text-anchor="start" fill="#1a1a1a" >F = 0.0038</text>
<text x="348.1" y="320.5" font-size="13.3" text-anchor="middle" fill="#1a1a1a" >TAPB-PDA</text>
<text x="248.6" y="322" font-size="16" text-anchor="start" fill="#1a1a1a" >(c)</text>
<text x="280.4" y="338.45" font-size="11" text-anchor="end" fill="#1a1a1a" >4.0</text>
<text x="280.4" y="380.55" font-size="11" text-anchor="end" fill="#1a1a1a" >3.5</text>
<text x="280.4" y="423.15" font-size="11" text-anchor="end" fill="#1a1a1a" >3.0</text>
<text x="280.4" y="465.75" font-size="11" text-anchor="end" fill="#1a1a1a" >2.5</text>
<text x="280.4" y="504.55" font-size="11" text-anchor="end" fill="#1a1a1a" >2.0</text>
<text x="424.2" y="337" font-size="11" text-anchor="start" fill="#1a1a1a" >2.0</text>
<text x="424.2" y="371.02" font-size="11" text-anchor="start" fill="#1a1a1a" >1.8</text>
<text x="424.2" y="405.04" font-size="11" text-anchor="start" fill="#1a1a1a" >1.6</text>
<text x="424.2" y="439.06" font-size="11" text-anchor="start" fill="#1a1a1a" >1.4</text>
<text x="424.2" y="473.08" font-size="11" text-anchor="start" fill="#1a1a1a" >1.2</text>
<text x="424.2" y="507.1" font-size="11" text-anchor="start" fill="#1a1a1a" >1.0</text>
<text x="309" y="517.6" font-size="11" text-anchor="middle" fill="#1a1a1a" >700</text>
<text x="352.7" y="517.6" font-size="11" text-anchor="middle" fill="#1a1a1a" >800</text>
<text x="396.9" y="517.6" font-size="11" text-anchor="middle" fill="#1a1a1a" >900</text>
<text x="354.9" y="533.8" font-size="11.5" text-anchor="middle" fill="#1a1a1a" >Wavelength (nm)</text>
<text x="0" y="0" font-size="12" text-anchor="middle" fill="#1a1a1a" transform="translate(258.9,421.6) rotate(-90)">PA (a.u.)</text>
<text x="0" y="0" font-size="12" text-anchor="middle" fill="#1a1a1a" transform="translate(454.6,419.1) rotate(-90)">F (R)</text>
<line x1="517.86" y1="503.4" x2="517.86" y2="501.9" stroke="#333" stroke-width="1.0"/>
<line x1="517.86" y1="333.4" x2="517.86" y2="334.9" stroke="#333" stroke-width="1.0"/>
<line x1="526.38" y1="503.4" x2="526.38" y2="501.9" stroke="#333" stroke-width="1.0"/>
<line x1="526.38" y1="333.4" x2="526.38" y2="334.9" stroke="#333" stroke-width="1.0"/>
<line x1="534.9" y1="503.4" x2="534.9" y2="501.4" stroke="#333" stroke-width="1.0"/>
<line x1="534.9" y1="333.4" x2="534.9" y2="335.4" stroke="#333" stroke-width="1.0"/>
<line x1="543.42" y1="503.4" x2="543.42" y2="501.9" stroke="#333" stroke-width="1.0"/>
<line x1="543.42" y1="333.4" x2="543.42" y2="334.9" stroke="#333" stroke-width="1.0"/>
<line x1="551.94" y1="503.4" x2="551.94" y2="501.9" stroke="#333" stroke-width="1.0"/>
<line x1="551.94" y1="333.4" x2="551.94" y2="334.9" stroke="#333" stroke-width="1.0"/>
<line x1="560.46" y1="503.4" x2="560.46" y2="501.9" stroke="#333" stroke-width="1.0"/>
<line x1="560.46" y1="333.4" x2="560.46" y2="334.9" stroke="#333" stroke-width="1.0"/>
<line x1="568.98" y1="503.4" x2="568.98" y2="501.9" stroke="#333" stroke-width="1.0"/>
<line x1="568.98" y1="333.4" x2="568.98" y2="334.9" stroke="#333" stroke-width="1.0"/>
<line x1="577.5" y1="503.4" x2="577.5" y2="501.4" stroke="#333" stroke-width="1.0"/>
<line x1="577.5" y1="333.4" x2="577.5" y2="335.4" stroke="#333" stroke-width="1.0"/>
<line x1="586.02" y1="503.4" x2="586.02" y2="501.9" stroke="#333" stroke-width="1.0"/>
<line x1="586.02" y1="333.4" x2="586.02" y2="334.9" stroke="#333" stroke-width="1.0"/>
<line x1="594.54" y1="503.4" x2="594.54" y2="501.9" stroke="#333" stroke-width="1.0"/>
<line x1="594.54" y1="333.4" x2="594.54" y2="334.9" stroke="#333" stroke-width="1.0"/>
<line x1="603.06" y1="503.4" x2="603.06" y2="501.9" stroke="#333" stroke-width="1.0"/>
<line x1="603.06" y1="333.4" x2="603.06" y2="334.9" stroke="#333" stroke-width="1.0"/>
<line x1="611.58" y1="503.4" x2="611.58" y2="501.9" stroke="#333" stroke-width="1.0"/>
<line x1="611.58" y1="333.4" x2="611.58" y2="334.9" stroke="#333" stroke-width="1.0"/>
<line x1="620.1" y1="503.4" x2="620.1" y2="501.4" stroke="#333" stroke-width="1.0"/>
<line x1="620.1" y1="333.4" x2="620.1" y2="335.4" stroke="#333" stroke-width="1.0"/>
<line x1="628.62" y1="503.4" x2="628.62" y2="501.9" stroke="#333" stroke-width="1.0"/>
<line x1="628.62" y1="333.4" x2="628.62" y2="334.9" stroke="#333" stroke-width="1.0"/>
<line x1="637.14" y1="503.4" x2="637.14" y2="501.9" stroke="#333" stroke-width="1.0"/>
<line x1="637.14" y1="333.4" x2="637.14" y2="334.9" stroke="#333" stroke-width="1.0"/>
<line x1="509.6" y1="333.4" x2="511.4" y2="333.4" stroke="#333" stroke-width="1.0"/>
<line x1="509.6" y1="375.9" x2="511.4" y2="375.9" stroke="#333" stroke-width="1.0"/>
<line x1="509.6" y1="418.4" x2="511.4" y2="418.4" stroke="#333" stroke-width="1.0"/>
<line x1="509.6" y1="460.9" x2="511.4" y2="460.9" stroke="#333" stroke-width="1.0"/>
<line x1="509.6" y1="503.4" x2="511.4" y2="503.4" stroke="#333" stroke-width="1.0"/>
<line x1="645.3" y1="333.4" x2="643.1" y2="333.4" stroke="#333" stroke-width="1.0"/>
<line x1="645.3" y1="340.2" x2="643.8" y2="340.2" stroke="#333" stroke-width="1.0"/>
<line x1="645.3" y1="347" x2="643.8" y2="347" stroke="#333" stroke-width="1.0"/>
<line x1="645.3" y1="353.8" x2="643.8" y2="353.8" stroke="#333" stroke-width="1.0"/>
<line x1="645.3" y1="360.6" x2="643.8" y2="360.6" stroke="#333" stroke-width="1.0"/>
<line x1="645.3" y1="367.4" x2="643.1" y2="367.4" stroke="#333" stroke-width="1.0"/>
<line x1="645.3" y1="374.2" x2="643.8" y2="374.2" stroke="#333" stroke-width="1.0"/>
<line x1="645.3" y1="381" x2="643.8" y2="381" stroke="#333" stroke-width="1.0"/>
<line x1="645.3" y1="387.8" x2="643.8" y2="387.8" stroke="#333" stroke-width="1.0"/>
<line x1="645.3" y1="394.6" x2="643.8" y2="394.6" stroke="#333" stroke-width="1.0"/>
<line x1="645.3" y1="401.4" x2="643.1" y2="401.4" stroke="#333" stroke-width="1.0"/>
<line x1="645.3" y1="408.2" x2="643.8" y2="408.2" stroke="#333" stroke-width="1.0"/>
<line x1="645.3" y1="415" x2="643.8" y2="415" stroke="#333" stroke-width="1.0"/>
<line x1="645.3" y1="421.8" x2="643.8" y2="421.8" stroke="#333" stroke-width="1.0"/>
<line x1="645.3" y1="428.6" x2="643.8" y2="428.6" stroke="#333" stroke-width="1.0"/>
<line x1="645.3" y1="435.4" x2="643.1" y2="435.4" stroke="#333" stroke-width="1.0"/>
<line x1="645.3" y1="442.2" x2="643.8" y2="442.2" stroke="#333" stroke-width="1.0"/>
<line x1="645.3" y1="449" x2="643.8" y2="449" stroke="#333" stroke-width="1.0"/>
<line x1="645.3" y1="455.8" x2="643.8" y2="455.8" stroke="#333" stroke-width="1.0"/>
<line x1="645.3" y1="462.6" x2="643.8" y2="462.6" stroke="#333" stroke-width="1.0"/>
<line x1="645.3" y1="469.4" x2="643.1" y2="469.4" stroke="#333" stroke-width="1.0"/>
<line x1="645.3" y1="476.2" x2="643.8" y2="476.2" stroke="#333" stroke-width="1.0"/>
<line x1="645.3" y1="483" x2="643.8" y2="483" stroke="#333" stroke-width="1.0"/>
<line x1="645.3" y1="489.8" x2="643.8" y2="489.8" stroke="#333" stroke-width="1.0"/>
<line x1="645.3" y1="496.6" x2="643.8" y2="496.6" stroke="#333" stroke-width="1.0"/>
<line x1="645.3" y1="503.4" x2="643.1" y2="503.4" stroke="#333" stroke-width="1.0"/>
<clipPath id="clip479"><rect x="509.5" y="333.5" width="136" height="170"/></clipPath>
<g clip-path="url(#clip479)">
<path d="M517.5,353.4 C517.78,354.75 518.6,358.62 519.2,361.5 C519.8,364.38 520.45,367.63 521.1,370.7 C521.75,373.77 522.4,377.02 523.1,379.9 C523.8,382.78 524.47,385.4 525.3,388 C526.13,390.6 527.1,392.92 528.1,395.5 C529.1,398.08 530.27,401.17 531.3,403.5 C532.33,405.83 533.28,407.67 534.3,409.5 C535.32,411.33 536.37,412.75 537.4,414.5 C538.43,416.25 539.43,418.2 540.5,420 C541.57,421.8 542.55,423.63 543.8,425.3 C545.05,426.97 546.57,428.47 548,430 C549.43,431.53 550.9,433.02 552.4,434.5 C553.9,435.98 555.4,437.55 557,438.9 C558.6,440.25 560.33,441.38 562,442.6 C563.67,443.82 565.4,445.03 567,446.2 C568.6,447.37 570.07,448.63 571.6,449.6 C573.13,450.57 574.83,450.85 576.2,452 C577.57,453.15 578.58,454.78 579.8,456.5 C581.02,458.22 582.17,460.48 583.5,462.3 C584.83,464.12 586.07,465.97 587.8,467.4 C589.53,468.83 591.87,470.47 593.9,470.9 C595.93,471.33 597.8,470.73 600,470 C602.2,469.27 604.9,467.72 607.1,466.5 C609.3,465.28 611.32,463.52 613.2,462.7 C615.08,461.88 616.5,461.48 618.4,461.6 C620.3,461.72 622.55,462.43 624.6,463.4 C626.65,464.37 628.8,466.05 630.7,467.4 C632.6,468.75 635.12,470.82 636,471.5" fill="none" stroke="#000" stroke-width="2.6" stroke-linejoin="round" stroke-linecap="round" />
<circle cx="517.9" cy="394.1" r="2.5" fill="#000"/>
<circle cx="526.4" cy="354.3" r="2.5" fill="#000"/>
<circle cx="534.9" cy="382.6" r="2.5" fill="#000"/>
<circle cx="544" cy="427.1" r="2.5" fill="#000"/>
<circle cx="551.9" cy="434.7" r="2.5" fill="#000"/>
<circle cx="560.1" cy="449.9" r="2.5" fill="#000"/>
<circle cx="568.5" cy="457.4" r="2.5" fill="#000"/>
<circle cx="576.9" cy="451.1" r="2.5" fill="#000"/>
<circle cx="585.7" cy="456.4" r="2.5" fill="#000"/>
<circle cx="594.3" cy="475" r="2.5" fill="#000"/>
<circle cx="602.7" cy="468" r="2.5" fill="#000"/>
<circle cx="610.9" cy="469.2" r="2.5" fill="#000"/>
<circle cx="619.7" cy="452.5" r="2.5" fill="#000"/>
<circle cx="628.4" cy="452.2" r="2.5" fill="#000"/>
<circle cx="636.8" cy="475.3" r="2.5" fill="#000"/>
</g>
<line x1="509.5" y1="333.5" x2="509.5" y2="503.5" stroke="#333" stroke-width="1.0"/>
<line x1="645.5" y1="333.5" x2="645.5" y2="503.5" stroke="#333" stroke-width="1.0"/>
<line x1="509" y1="333.5" x2="646" y2="333.5" stroke="#333" stroke-width="1.0"/>
<line x1="509" y1="503.5" x2="646" y2="503.5" stroke="#333" stroke-width="1.0"/>
<line x1="576.5" y1="347.2" x2="598" y2="347.2" stroke="#000" stroke-width="2.7"/>
<circle cx="587.5" cy="364.2" r="3.4" fill="#000"/>
<text x="606" y="351.3" font-size="11.4" text-anchor="start" fill="#1a1a1a" >DRS</text>
<text x="606" y="368.9" font-size="11.4" text-anchor="start" fill="#1a1a1a" >PA</text>
<text x="514.9" y="482.3" font-size="11.3" text-anchor="start" fill="#1a1a1a" >&#961; = 0.90</text>
<text x="514.9" y="496.3" font-size="11.3" text-anchor="start" fill="#1a1a1a" >F = 0.037</text>
<text x="579.3" y="321.5" font-size="13.3" text-anchor="middle" fill="#1a1a1a" >MSN-ATTO532</text>
<text x="471.5" y="322.2" font-size="16" text-anchor="start" fill="#1a1a1a" >(d)</text>
<text x="506.2" y="335.95" font-size="11" text-anchor="end" fill="#1a1a1a" >2.3</text>
<text x="506.2" y="378.85" font-size="11" text-anchor="end" fill="#1a1a1a" >2.2</text>
<text x="506.2" y="419.75" font-size="11" text-anchor="end" fill="#1a1a1a" >2.1</text>
<text x="506.2" y="459.85" font-size="11" text-anchor="end" fill="#1a1a1a" >2.0</text>
<text x="506.2" y="502.15" font-size="11" text-anchor="end" fill="#1a1a1a" >1.9</text>
<text x="648.6" y="336.1" font-size="11" text-anchor="start" fill="#1a1a1a" >7</text>
<text x="648.6" y="370" font-size="11" text-anchor="start" fill="#1a1a1a" >6</text>
<text x="648.6" y="403.9" font-size="11" text-anchor="start" fill="#1a1a1a" >5</text>
<text x="648.6" y="436.5" font-size="11" text-anchor="start" fill="#1a1a1a" >4</text>
<text x="648.6" y="470.5" font-size="11" text-anchor="start" fill="#1a1a1a" >3</text>
<text x="648.6" y="504.1" font-size="11" text-anchor="start" fill="#1a1a1a" >2</text>
<text x="533.1" y="517.6" font-size="11" text-anchor="middle" fill="#1a1a1a" >700</text>
<text x="576.8" y="517.6" font-size="11" text-anchor="middle" fill="#1a1a1a" >800</text>
<text x="621" y="517.6" font-size="11" text-anchor="middle" fill="#1a1a1a" >900</text>
<text x="571.9" y="533.8" font-size="11.5" text-anchor="middle" fill="#1a1a1a" >Wavelength (nm)</text>
<text x="0" y="0" font-size="12" text-anchor="middle" fill="#1a1a1a" transform="translate(486.3,417.3) rotate(-90)">PA (a.u.)</text>
<text x="0" y="0" font-size="12" text-anchor="middle" fill="#1a1a1a" transform="translate(668.7,416.7) rotate(-90)">F (R)</text>
<circle cx="535.5" cy="411.6" r="1.6" fill="#000"/>
<circle cx="542.5" cy="427.2" r="2.2" fill="#000"/>
<circle cx="551.3" cy="434.2" r="2.2" fill="#000"/>
<circle cx="556" cy="438.8" r="1.8" fill="#000"/>
<circle cx="562" cy="443" r="1.6" fill="#000"/>
<circle cx="566" cy="445.2" r="1.6" fill="#000"/>
<circle cx="571" cy="449.5" r="1.8" fill="#000"/>
<circle cx="576.5" cy="451" r="2.3" fill="#000"/>
<circle cx="546.5" cy="429.5" r="1.6" fill="#000"/>
<circle cx="560.1" cy="443" r="1.8" fill="#000"/>
<circle cx="565.2" cy="446.2" r="1.8" fill="#000"/>
<circle cx="569.3" cy="448" r="1.8" fill="#000"/>
<circle cx="573.4" cy="450.6" r="1.8" fill="#000"/>
<text x="658.8" y="323.2" font-size="12.4" text-anchor="start" fill="#1a1a1a" >x10</text>
<text x="679.2" y="314.2" font-size="7.2" text-anchor="start" fill="#1a1a1a" >-3</text>
<line x1="64.3" y1="554.8" x2="64.3" y2="725.6" stroke="#dcdcdc" stroke-width="1"/>
<line x1="95.08" y1="554.8" x2="95.08" y2="725.6" stroke="#dcdcdc" stroke-width="1"/>
<line x1="125.85" y1="554.8" x2="125.85" y2="725.6" stroke="#dcdcdc" stroke-width="1"/>
<line x1="156.62" y1="554.8" x2="156.62" y2="725.6" stroke="#dcdcdc" stroke-width="1"/>
<line x1="54.8" y1="697.2" x2="187.5" y2="697.2" stroke="#dcdcdc" stroke-width="1"/>
<line x1="54.8" y1="668.7" x2="187.5" y2="668.7" stroke="#dcdcdc" stroke-width="1"/>
<line x1="54.8" y1="640.2" x2="187.5" y2="640.2" stroke="#dcdcdc" stroke-width="1"/>
<line x1="54.8" y1="611.7" x2="187.5" y2="611.7" stroke="#dcdcdc" stroke-width="1"/>
<line x1="54.8" y1="583.2" x2="187.5" y2="583.2" stroke="#dcdcdc" stroke-width="1"/>
<line x1="56.61" y1="725.6" x2="56.61" y2="723.8" stroke="#333" stroke-width="0.9"/>
<line x1="56.61" y1="554.8" x2="56.61" y2="556.6" stroke="#333" stroke-width="0.9"/>
<line x1="64.3" y1="725.6" x2="64.3" y2="723.8" stroke="#333" stroke-width="0.9"/>
<line x1="64.3" y1="554.8" x2="64.3" y2="556.6" stroke="#333" stroke-width="0.9"/>
<line x1="71.99" y1="725.6" x2="71.99" y2="723.8" stroke="#333" stroke-width="0.9"/>
<line x1="71.99" y1="554.8" x2="71.99" y2="556.6" stroke="#333" stroke-width="0.9"/>
<line x1="79.69" y1="725.6" x2="79.69" y2="723.8" stroke="#333" stroke-width="0.9"/>
<line x1="79.69" y1="554.8" x2="79.69" y2="556.6" stroke="#333" stroke-width="0.9"/>
<line x1="87.38" y1="725.6" x2="87.38" y2="723.8" stroke="#333" stroke-width="0.9"/>
<line x1="87.38" y1="554.8" x2="87.38" y2="556.6" stroke="#333" stroke-width="0.9"/>
<line x1="95.08" y1="725.6" x2="95.08" y2="723.8" stroke="#333" stroke-width="0.9"/>
<line x1="95.08" y1="554.8" x2="95.08" y2="556.6" stroke="#333" stroke-width="0.9"/>
<line x1="102.77" y1="725.6" x2="102.77" y2="723.8" stroke="#333" stroke-width="0.9"/>
<line x1="102.77" y1="554.8" x2="102.77" y2="556.6" stroke="#333" stroke-width="0.9"/>
<line x1="110.46" y1="725.6" x2="110.46" y2="723.8" stroke="#333" stroke-width="0.9"/>
<line x1="110.46" y1="554.8" x2="110.46" y2="556.6" stroke="#333" stroke-width="0.9"/>
<line x1="118.16" y1="725.6" x2="118.16" y2="723.8" stroke="#333" stroke-width="0.9"/>
<line x1="118.16" y1="554.8" x2="118.16" y2="556.6" stroke="#333" stroke-width="0.9"/>
<line x1="125.85" y1="725.6" x2="125.85" y2="723.8" stroke="#333" stroke-width="0.9"/>
<line x1="125.85" y1="554.8" x2="125.85" y2="556.6" stroke="#333" stroke-width="0.9"/>
<line x1="133.54" y1="725.6" x2="133.54" y2="723.8" stroke="#333" stroke-width="0.9"/>
<line x1="133.54" y1="554.8" x2="133.54" y2="556.6" stroke="#333" stroke-width="0.9"/>
<line x1="141.24" y1="725.6" x2="141.24" y2="723.8" stroke="#333" stroke-width="0.9"/>
<line x1="141.24" y1="554.8" x2="141.24" y2="556.6" stroke="#333" stroke-width="0.9"/>
<line x1="148.93" y1="725.6" x2="148.93" y2="723.8" stroke="#333" stroke-width="0.9"/>
<line x1="148.93" y1="554.8" x2="148.93" y2="556.6" stroke="#333" stroke-width="0.9"/>
<line x1="156.62" y1="725.6" x2="156.62" y2="723.8" stroke="#333" stroke-width="0.9"/>
<line x1="156.62" y1="554.8" x2="156.62" y2="556.6" stroke="#333" stroke-width="0.9"/>
<line x1="164.32" y1="725.6" x2="164.32" y2="723.8" stroke="#333" stroke-width="0.9"/>
<line x1="164.32" y1="554.8" x2="164.32" y2="556.6" stroke="#333" stroke-width="0.9"/>
<line x1="172.01" y1="725.6" x2="172.01" y2="723.8" stroke="#333" stroke-width="0.9"/>
<line x1="172.01" y1="554.8" x2="172.01" y2="556.6" stroke="#333" stroke-width="0.9"/>
<line x1="179.71" y1="725.6" x2="179.71" y2="723.8" stroke="#333" stroke-width="0.9"/>
<line x1="179.71" y1="554.8" x2="179.71" y2="556.6" stroke="#333" stroke-width="0.9"/>
<line x1="54.8" y1="720" x2="56.6" y2="720" stroke="#333" stroke-width="0.9"/>
<line x1="187.5" y1="720" x2="185.7" y2="720" stroke="#333" stroke-width="0.9"/>
<line x1="54.8" y1="714.3" x2="56.6" y2="714.3" stroke="#333" stroke-width="0.9"/>
<line x1="187.5" y1="714.3" x2="185.7" y2="714.3" stroke="#333" stroke-width="0.9"/>
<line x1="54.8" y1="708.6" x2="56.6" y2="708.6" stroke="#333" stroke-width="0.9"/>
<line x1="187.5" y1="708.6" x2="185.7" y2="708.6" stroke="#333" stroke-width="0.9"/>
<line x1="54.8" y1="702.9" x2="56.6" y2="702.9" stroke="#333" stroke-width="0.9"/>
<line x1="187.5" y1="702.9" x2="185.7" y2="702.9" stroke="#333" stroke-width="0.9"/>
<line x1="54.8" y1="697.2" x2="56.6" y2="697.2" stroke="#333" stroke-width="0.9"/>
<line x1="187.5" y1="697.2" x2="185.7" y2="697.2" stroke="#333" stroke-width="0.9"/>
<line x1="54.8" y1="691.5" x2="56.6" y2="691.5" stroke="#333" stroke-width="0.9"/>
<line x1="187.5" y1="691.5" x2="185.7" y2="691.5" stroke="#333" stroke-width="0.9"/>
<line x1="54.8" y1="685.8" x2="56.6" y2="685.8" stroke="#333" stroke-width="0.9"/>
<line x1="187.5" y1="685.8" x2="185.7" y2="685.8" stroke="#333" stroke-width="0.9"/>
<line x1="54.8" y1="680.1" x2="56.6" y2="680.1" stroke="#333" stroke-width="0.9"/>
<line x1="187.5" y1="680.1" x2="185.7" y2="680.1" stroke="#333" stroke-width="0.9"/>
<line x1="54.8" y1="674.4" x2="56.6" y2="674.4" stroke="#333" stroke-width="0.9"/>
<line x1="187.5" y1="674.4" x2="185.7" y2="674.4" stroke="#333" stroke-width="0.9"/>
<line x1="54.8" y1="668.7" x2="56.6" y2="668.7" stroke="#333" stroke-width="0.9"/>
<line x1="187.5" y1="668.7" x2="185.7" y2="668.7" stroke="#333" stroke-width="0.9"/>
<line x1="54.8" y1="663" x2="56.6" y2="663" stroke="#333" stroke-width="0.9"/>
<line x1="187.5" y1="663" x2="185.7" y2="663" stroke="#333" stroke-width="0.9"/>
<line x1="54.8" y1="657.3" x2="56.6" y2="657.3" stroke="#333" stroke-width="0.9"/>
<line x1="187.5" y1="657.3" x2="185.7" y2="657.3" stroke="#333" stroke-width="0.9"/>
<line x1="54.8" y1="651.6" x2="56.6" y2="651.6" stroke="#333" stroke-width="0.9"/>
<line x1="187.5" y1="651.6" x2="185.7" y2="651.6" stroke="#333" stroke-width="0.9"/>
<line x1="54.8" y1="645.9" x2="56.6" y2="645.9" stroke="#333" stroke-width="0.9"/>
<line x1="187.5" y1="645.9" x2="185.7" y2="645.9" stroke="#333" stroke-width="0.9"/>
<line x1="54.8" y1="640.2" x2="56.6" y2="640.2" stroke="#333" stroke-width="0.9"/>
<line x1="187.5" y1="640.2" x2="185.7" y2="640.2" stroke="#333" stroke-width="0.9"/>
<line x1="54.8" y1="634.5" x2="56.6" y2="634.5" stroke="#333" stroke-width="0.9"/>
<line x1="187.5" y1="634.5" x2="185.7" y2="634.5" stroke="#333" stroke-width="0.9"/>
<line x1="54.8" y1="628.8" x2="56.6" y2="628.8" stroke="#333" stroke-width="0.9"/>
<line x1="187.5" y1="628.8" x2="185.7" y2="628.8" stroke="#333" stroke-width="0.9"/>
<line x1="54.8" y1="623.1" x2="56.6" y2="623.1" stroke="#333" stroke-width="0.9"/>
<line x1="187.5" y1="623.1" x2="185.7" y2="623.1" stroke="#333" stroke-width="0.9"/>
<line x1="54.8" y1="617.4" x2="56.6" y2="617.4" stroke="#333" stroke-width="0.9"/>
<line x1="187.5" y1="617.4" x2="185.7" y2="617.4" stroke="#333" stroke-width="0.9"/>
<line x1="54.8" y1="611.7" x2="56.6" y2="611.7" stroke="#333" stroke-width="0.9"/>
<line x1="187.5" y1="611.7" x2="185.7" y2="611.7" stroke="#333" stroke-width="0.9"/>
<line x1="54.8" y1="606" x2="56.6" y2="606" stroke="#333" stroke-width="0.9"/>
<line x1="187.5" y1="606" x2="185.7" y2="606" stroke="#333" stroke-width="0.9"/>
<line x1="54.8" y1="600.3" x2="56.6" y2="600.3" stroke="#333" stroke-width="0.9"/>
<line x1="187.5" y1="600.3" x2="185.7" y2="600.3" stroke="#333" stroke-width="0.9"/>
<line x1="54.8" y1="594.6" x2="56.6" y2="594.6" stroke="#333" stroke-width="0.9"/>
<line x1="187.5" y1="594.6" x2="185.7" y2="594.6" stroke="#333" stroke-width="0.9"/>
<line x1="54.8" y1="588.9" x2="56.6" y2="588.9" stroke="#333" stroke-width="0.9"/>
<line x1="187.5" y1="588.9" x2="185.7" y2="588.9" stroke="#333" stroke-width="0.9"/>
<line x1="54.8" y1="583.2" x2="56.6" y2="583.2" stroke="#333" stroke-width="0.9"/>
<line x1="187.5" y1="583.2" x2="185.7" y2="583.2" stroke="#333" stroke-width="0.9"/>
<line x1="54.8" y1="577.5" x2="56.6" y2="577.5" stroke="#333" stroke-width="0.9"/>
<line x1="187.5" y1="577.5" x2="185.7" y2="577.5" stroke="#333" stroke-width="0.9"/>
<line x1="54.8" y1="571.8" x2="56.6" y2="571.8" stroke="#333" stroke-width="0.9"/>
<line x1="187.5" y1="571.8" x2="185.7" y2="571.8" stroke="#333" stroke-width="0.9"/>
<line x1="54.8" y1="566.1" x2="56.6" y2="566.1" stroke="#333" stroke-width="0.9"/>
<line x1="187.5" y1="566.1" x2="185.7" y2="566.1" stroke="#333" stroke-width="0.9"/>
<line x1="54.8" y1="560.4" x2="56.6" y2="560.4" stroke="#333" stroke-width="0.9"/>
<line x1="187.5" y1="560.4" x2="185.7" y2="560.4" stroke="#333" stroke-width="0.9"/>
<line x1="64.3" y1="725.6" x2="64.3" y2="722.6" stroke="#333" stroke-width="0.9"/>
<line x1="64.3" y1="554.8" x2="64.3" y2="557.8" stroke="#333" stroke-width="0.9"/>
<line x1="95.08" y1="725.6" x2="95.08" y2="722.6" stroke="#333" stroke-width="0.9"/>
<line x1="95.08" y1="554.8" x2="95.08" y2="557.8" stroke="#333" stroke-width="0.9"/>
<line x1="125.85" y1="725.6" x2="125.85" y2="722.6" stroke="#333" stroke-width="0.9"/>
<line x1="125.85" y1="554.8" x2="125.85" y2="557.8" stroke="#333" stroke-width="0.9"/>
<line x1="156.62" y1="725.6" x2="156.62" y2="722.6" stroke="#333" stroke-width="0.9"/>
<line x1="156.62" y1="554.8" x2="156.62" y2="557.8" stroke="#333" stroke-width="0.9"/>
<line x1="54.8" y1="697.2" x2="57.8" y2="697.2" stroke="#333" stroke-width="0.9"/>
<line x1="187.5" y1="697.2" x2="184.5" y2="697.2" stroke="#333" stroke-width="0.9"/>
<line x1="54.8" y1="668.7" x2="57.8" y2="668.7" stroke="#333" stroke-width="0.9"/>
<line x1="187.5" y1="668.7" x2="184.5" y2="668.7" stroke="#333" stroke-width="0.9"/>
<line x1="54.8" y1="640.2" x2="57.8" y2="640.2" stroke="#333" stroke-width="0.9"/>
<line x1="187.5" y1="640.2" x2="184.5" y2="640.2" stroke="#333" stroke-width="0.9"/>
<line x1="54.8" y1="611.7" x2="57.8" y2="611.7" stroke="#333" stroke-width="0.9"/>
<line x1="187.5" y1="611.7" x2="184.5" y2="611.7" stroke="#333" stroke-width="0.9"/>
<line x1="54.8" y1="583.2" x2="57.8" y2="583.2" stroke="#333" stroke-width="0.9"/>
<line x1="187.5" y1="583.2" x2="184.5" y2="583.2" stroke="#333" stroke-width="0.9"/>
<path d="M54.6,693.4 C54.93,693.67 55.78,695.22 56.6,695 C57.42,694.78 58.53,693.18 59.5,692.1 C60.47,691.02 61.43,689.72 62.4,688.5 C63.37,687.28 64.33,686.02 65.3,684.8 C66.27,683.58 67.22,682.17 68.2,681.2 C69.18,680.23 70.1,679.55 71.2,679 C72.3,678.45 73.72,678.27 74.8,677.9 C75.88,677.53 76.6,677.17 77.7,676.8 C78.8,676.43 80.18,676.18 81.4,675.7 C82.62,675.22 83.67,674.57 85,673.9 C86.33,673.23 87.93,672.62 89.4,671.7 C90.87,670.78 92.47,669.65 93.8,668.4 C95.13,667.15 96.28,665.38 97.4,664.2 C98.52,663.02 99.3,662.58 100.5,661.3 C101.7,660.02 102.7,658.27 104.6,656.5 C106.5,654.73 109.72,652.77 111.9,650.7 C114.08,648.63 116.23,645.93 117.7,644.1 C119.17,642.27 119.6,641.28 120.7,639.7 C121.8,638.12 122.97,636.42 124.3,634.6 C125.63,632.78 127.75,630.12 128.7,628.8 C129.65,627.48 129.05,628.22 130,626.7 C130.95,625.18 132.93,621.68 134.4,619.7 C135.87,617.72 137.35,616.27 138.8,614.8 C140.25,613.33 141.65,612.13 143.1,610.9 C144.55,609.67 146.03,608.5 147.5,607.4 C148.97,606.3 150.43,605.32 151.9,604.3 C153.37,603.28 154.85,602.32 156.3,601.3 C157.75,600.28 159.15,599.23 160.6,598.2 C162.05,597.17 163.53,596.12 165,595.1 C166.47,594.08 167.93,593.05 169.4,592.1 C170.87,591.15 172.33,590.35 173.8,589.4 C175.27,588.45 176.75,587.42 178.2,586.4 C179.65,585.38 180.97,584.25 182.5,583.3 C184.03,582.35 186.58,581.13 187.4,580.7" fill="none" stroke="#a5182a" stroke-width="3.3" stroke-linejoin="round" stroke-linecap="round" />
<path d="M62.4,690.5 L63.3,694 L63.5,698.4" fill="none" stroke="#a5182a" stroke-width="2.8" stroke-linejoin="round" stroke-linecap="round" />
<circle cx="54.9" cy="693.5" r="2.0" fill="#a5182a"/>
<line x1="55.2" y1="697" x2="187.7" y2="578.9" stroke="#9a9a9a" stroke-width="0.8"/>
<rect x="54.8" y="554.8" width="132.7" height="170.8" fill="none" stroke="#333" stroke-width="1.1"/>
<text x="50.4" y="557.7" font-size="11" text-anchor="end" fill="#1a1a1a" >4.5</text>
<text x="50.4" y="586.2" font-size="11" text-anchor="end" fill="#1a1a1a" >4.0</text>
<text x="50.4" y="614.7" font-size="11" text-anchor="end" fill="#1a1a1a" >3.5</text>
<text x="50.4" y="643.2" font-size="11" text-anchor="end" fill="#1a1a1a" >3.0</text>
<text x="50.4" y="671.7" font-size="11" text-anchor="end" fill="#1a1a1a" >2.5</text>
<text x="50.4" y="700.2" font-size="11" text-anchor="end" fill="#1a1a1a" >2.0</text>
<text x="50.4" y="730.3" font-size="11" text-anchor="end" fill="#1a1a1a" >1.5</text>
<text x="63.5" y="739.8" font-size="11" text-anchor="middle" fill="#1a1a1a" >0.08</text>
<text x="93.7" y="739.8" font-size="11" text-anchor="middle" fill="#1a1a1a" >0.10</text>
<text x="125.3" y="739.8" font-size="11" text-anchor="middle" fill="#1a1a1a" >0.12</text>
<text x="159.3" y="739.8" font-size="11" text-anchor="middle" fill="#1a1a1a" >0.14</text>
<text x="189.9" y="739.8" font-size="11" text-anchor="middle" fill="#1a1a1a" >0.16</text>
<text x="116.9" y="754.9" font-size="11.5" text-anchor="middle" fill="#1a1a1a" >Optical, F(R)</text>
<text x="0" y="0" font-size="12" text-anchor="middle" fill="#1a1a1a" transform="translate(25.1,631.2) rotate(-90)">PA (a.u.)</text>
<text x="61.3" y="572.7" font-size="11.3" text-anchor="start" fill="#1a1a1a" >R&#178; = 0.99</text>
<text x="0.3" y="551.9" font-size="16" text-anchor="start" fill="#1a1a1a" >(e)</text>
<line x1="353.6" y1="555.5" x2="353.6" y2="725.7" stroke="#dcdcdc" stroke-width="1"/>
<line x1="285" y1="683.15" x2="422.2" y2="683.15" stroke="#dcdcdc" stroke-width="1"/>
<line x1="285" y1="640.6" x2="422.2" y2="640.6" stroke="#dcdcdc" stroke-width="1"/>
<line x1="285" y1="598.05" x2="422.2" y2="598.05" stroke="#dcdcdc" stroke-width="1"/>
<line x1="298.72" y1="725.7" x2="298.72" y2="723.9" stroke="#333" stroke-width="0.9"/>
<line x1="298.72" y1="555.5" x2="298.72" y2="557.3" stroke="#333" stroke-width="0.9"/>
<line x1="312.44" y1="725.7" x2="312.44" y2="723.9" stroke="#333" stroke-width="0.9"/>
<line x1="312.44" y1="555.5" x2="312.44" y2="557.3" stroke="#333" stroke-width="0.9"/>
<line x1="326.16" y1="725.7" x2="326.16" y2="723.9" stroke="#333" stroke-width="0.9"/>
<line x1="326.16" y1="555.5" x2="326.16" y2="557.3" stroke="#333" stroke-width="0.9"/>
<line x1="339.88" y1="725.7" x2="339.88" y2="723.9" stroke="#333" stroke-width="0.9"/>
<line x1="339.88" y1="555.5" x2="339.88" y2="557.3" stroke="#333" stroke-width="0.9"/>
<line x1="353.6" y1="725.7" x2="353.6" y2="723.9" stroke="#333" stroke-width="0.9"/>
<line x1="353.6" y1="555.5" x2="353.6" y2="557.3" stroke="#333" stroke-width="0.9"/>
<line x1="367.32" y1="725.7" x2="367.32" y2="723.9" stroke="#333" stroke-width="0.9"/>
<line x1="367.32" y1="555.5" x2="367.32" y2="557.3" stroke="#333" stroke-width="0.9"/>
<line x1="381.04" y1="725.7" x2="381.04" y2="723.9" stroke="#333" stroke-width="0.9"/>
<line x1="381.04" y1="555.5" x2="381.04" y2="557.3" stroke="#333" stroke-width="0.9"/>
<line x1="394.76" y1="725.7" x2="394.76" y2="723.9" stroke="#333" stroke-width="0.9"/>
<line x1="394.76" y1="555.5" x2="394.76" y2="557.3" stroke="#333" stroke-width="0.9"/>
<line x1="408.48" y1="725.7" x2="408.48" y2="723.9" stroke="#333" stroke-width="0.9"/>
<line x1="408.48" y1="555.5" x2="408.48" y2="557.3" stroke="#333" stroke-width="0.9"/>
<line x1="285" y1="717.19" x2="286.8" y2="717.19" stroke="#333" stroke-width="0.9"/>
<line x1="422.2" y1="717.19" x2="420.4" y2="717.19" stroke="#333" stroke-width="0.9"/>
<line x1="285" y1="708.68" x2="286.8" y2="708.68" stroke="#333" stroke-width="0.9"/>
<line x1="422.2" y1="708.68" x2="420.4" y2="708.68" stroke="#333" stroke-width="0.9"/>
<line x1="285" y1="700.17" x2="286.8" y2="700.17" stroke="#333" stroke-width="0.9"/>
<line x1="422.2" y1="700.17" x2="420.4" y2="700.17" stroke="#333" stroke-width="0.9"/>
<line x1="285" y1="691.66" x2="286.8" y2="691.66" stroke="#333" stroke-width="0.9"/>
<line x1="422.2" y1="691.66" x2="420.4" y2="691.66" stroke="#333" stroke-width="0.9"/>
<line x1="285" y1="683.15" x2="286.8" y2="683.15" stroke="#333" stroke-width="0.9"/>
<line x1="422.2" y1="683.15" x2="420.4" y2="683.15" stroke="#333" stroke-width="0.9"/>
<line x1="285" y1="674.64" x2="286.8" y2="674.64" stroke="#333" stroke-width="0.9"/>
<line x1="422.2" y1="674.64" x2="420.4" y2="674.64" stroke="#333" stroke-width="0.9"/>
<line x1="285" y1="666.13" x2="286.8" y2="666.13" stroke="#333" stroke-width="0.9"/>
<line x1="422.2" y1="666.13" x2="420.4" y2="666.13" stroke="#333" stroke-width="0.9"/>
<line x1="285" y1="657.62" x2="286.8" y2="657.62" stroke="#333" stroke-width="0.9"/>
<line x1="422.2" y1="657.62" x2="420.4" y2="657.62" stroke="#333" stroke-width="0.9"/>
<line x1="285" y1="649.11" x2="286.8" y2="649.11" stroke="#333" stroke-width="0.9"/>
<line x1="422.2" y1="649.11" x2="420.4" y2="649.11" stroke="#333" stroke-width="0.9"/>
<line x1="285" y1="640.6" x2="286.8" y2="640.6" stroke="#333" stroke-width="0.9"/>
<line x1="422.2" y1="640.6" x2="420.4" y2="640.6" stroke="#333" stroke-width="0.9"/>
<line x1="285" y1="632.09" x2="286.8" y2="632.09" stroke="#333" stroke-width="0.9"/>
<line x1="422.2" y1="632.09" x2="420.4" y2="632.09" stroke="#333" stroke-width="0.9"/>
<line x1="285" y1="623.58" x2="286.8" y2="623.58" stroke="#333" stroke-width="0.9"/>
<line x1="422.2" y1="623.58" x2="420.4" y2="623.58" stroke="#333" stroke-width="0.9"/>
<line x1="285" y1="615.07" x2="286.8" y2="615.07" stroke="#333" stroke-width="0.9"/>
<line x1="422.2" y1="615.07" x2="420.4" y2="615.07" stroke="#333" stroke-width="0.9"/>
<line x1="285" y1="606.56" x2="286.8" y2="606.56" stroke="#333" stroke-width="0.9"/>
<line x1="422.2" y1="606.56" x2="420.4" y2="606.56" stroke="#333" stroke-width="0.9"/>
<line x1="285" y1="598.05" x2="286.8" y2="598.05" stroke="#333" stroke-width="0.9"/>
<line x1="422.2" y1="598.05" x2="420.4" y2="598.05" stroke="#333" stroke-width="0.9"/>
<line x1="285" y1="589.54" x2="286.8" y2="589.54" stroke="#333" stroke-width="0.9"/>
<line x1="422.2" y1="589.54" x2="420.4" y2="589.54" stroke="#333" stroke-width="0.9"/>
<line x1="285" y1="581.03" x2="286.8" y2="581.03" stroke="#333" stroke-width="0.9"/>
<line x1="422.2" y1="581.03" x2="420.4" y2="581.03" stroke="#333" stroke-width="0.9"/>
<line x1="285" y1="572.52" x2="286.8" y2="572.52" stroke="#333" stroke-width="0.9"/>
<line x1="422.2" y1="572.52" x2="420.4" y2="572.52" stroke="#333" stroke-width="0.9"/>
<line x1="285" y1="564.01" x2="286.8" y2="564.01" stroke="#333" stroke-width="0.9"/>
<line x1="422.2" y1="564.01" x2="420.4" y2="564.01" stroke="#333" stroke-width="0.9"/>
<line x1="353.6" y1="725.7" x2="353.6" y2="722.7" stroke="#333" stroke-width="0.9"/>
<line x1="353.6" y1="555.5" x2="353.6" y2="558.5" stroke="#333" stroke-width="0.9"/>
<line x1="285" y1="683.15" x2="288" y2="683.15" stroke="#333" stroke-width="0.9"/>
<line x1="422.2" y1="683.15" x2="419.2" y2="683.15" stroke="#333" stroke-width="0.9"/>
<line x1="285" y1="640.6" x2="288" y2="640.6" stroke="#333" stroke-width="0.9"/>
<line x1="422.2" y1="640.6" x2="419.2" y2="640.6" stroke="#333" stroke-width="0.9"/>
<line x1="285" y1="598.05" x2="288" y2="598.05" stroke="#333" stroke-width="0.9"/>
<line x1="422.2" y1="598.05" x2="419.2" y2="598.05" stroke="#333" stroke-width="0.9"/>
<path d="M304.3,726.5 L307.3,721.8 L310.8,718.2 L313.2,717.4" fill="none" stroke="#647bb9" stroke-width="3.8" stroke-linejoin="round" stroke-linecap="round" />
<path d="M313.2,717.4 L310.2,714.7 L308.4,711.7 L305.5,710.2" fill="none" stroke="#647bb9" stroke-width="3.8" stroke-linejoin="round" stroke-linecap="round" />
<path d="M305.5,710.2 C305.8,710.25 306.22,711.53 307.3,710.5 C308.38,709.47 310.43,706.47 312,704 C313.57,701.53 315.32,698.17 316.7,695.7 C318.08,693.23 319.1,691.47 320.3,689.2 C321.5,686.93 323.18,683.58 323.9,682.1 C324.62,680.62 324.02,681 324.6,680.3 C325.18,679.6 325.95,678.98 327.4,677.9 C328.85,676.82 331.32,675.22 333.3,673.8 C335.28,672.38 337.32,671.18 339.3,669.4 C341.28,667.62 343.42,665.3 345.2,663.1 C346.98,660.9 348.1,658.45 350,656.2 C351.9,653.95 354.4,651.47 356.6,649.6 C358.8,647.73 361,646.75 363.2,645 C365.4,643.25 367.6,641.62 369.8,639.1 C372,636.58 374.2,633.42 376.4,629.9 C378.6,626.38 381.03,621.52 383,618 C384.97,614.48 386.45,611.88 388.2,608.8 C389.95,605.72 391.52,602.03 393.5,599.5 C395.48,596.97 397.9,595.47 400.1,593.6 C402.3,591.73 404.73,590.05 406.7,588.3 C408.67,586.55 410.37,584.97 411.9,583.1 C413.43,581.23 414.8,579.2 415.9,577.1 C417,575 417.62,572.47 418.5,570.5 C419.38,568.53 420.75,566.17 421.2,565.3" fill="none" stroke="#647bb9" stroke-width="3.8" stroke-linejoin="round" stroke-linecap="round" />
<circle cx="304.6" cy="709.8" r="2.2" fill="#647bb9"/>
<line x1="303.7" y1="717.2" x2="421.2" y2="567.2" stroke="#9a9a9a" stroke-width="0.8"/>
<rect x="285" y="555.5" width="137.2" height="170.2" fill="none" stroke="#333" stroke-width="1.1"/>
<text x="280.8" y="560.8" font-size="11" text-anchor="end" fill="#1a1a1a" >4.0</text>
<text x="280.8" y="602.9" font-size="11" text-anchor="end" fill="#1a1a1a" >3.5</text>
<text x="280.8" y="645.8" font-size="11" text-anchor="end" fill="#1a1a1a" >3.0</text>
<text x="280.8" y="688.5" font-size="11" text-anchor="end" fill="#1a1a1a" >2.5</text>
<text x="280.8" y="728.7" font-size="11" text-anchor="end" fill="#1a1a1a" >2.0</text>
<text x="289.6" y="739.6" font-size="11" text-anchor="middle" fill="#1a1a1a" >1.0</text>
<text x="356.3" y="739.6" font-size="11" text-anchor="middle" fill="#1a1a1a" >1.5</text>
<text x="422.2" y="739.6" font-size="11" text-anchor="middle" fill="#1a1a1a" >2.0</text>
<text x="351" y="754.9" font-size="11.5" text-anchor="middle" fill="#1a1a1a" >Optical, F(R)</text>
<text x="0" y="0" font-size="12" text-anchor="middle" fill="#1a1a1a" transform="translate(251.4,626.3) rotate(-90)">PA (a.u.)</text>
<text x="292.2" y="572.7" font-size="11.3" text-anchor="start" fill="#1a1a1a" >R&#178; = 0.98</text>
<text x="248.6" y="551.9" font-size="16" text-anchor="start" fill="#1a1a1a" >(f)</text>
<line x1="555.1" y1="554.4" x2="555.1" y2="723.7" stroke="#dcdcdc" stroke-width="1"/>
<line x1="593.9" y1="554.4" x2="593.9" y2="723.7" stroke="#dcdcdc" stroke-width="1"/>
<line x1="632.7" y1="554.4" x2="632.7" y2="723.7" stroke="#dcdcdc" stroke-width="1"/>
<line x1="514" y1="700" x2="647.7" y2="700" stroke="#dcdcdc" stroke-width="1"/>
<line x1="514" y1="675.82" x2="647.7" y2="675.82" stroke="#dcdcdc" stroke-width="1"/>
<line x1="514" y1="651.64" x2="647.7" y2="651.64" stroke="#dcdcdc" stroke-width="1"/>
<line x1="514" y1="627.46" x2="647.7" y2="627.46" stroke="#dcdcdc" stroke-width="1"/>
<line x1="514" y1="603.28" x2="647.7" y2="603.28" stroke="#dcdcdc" stroke-width="1"/>
<line x1="514" y1="579.1" x2="647.7" y2="579.1" stroke="#dcdcdc" stroke-width="1"/>
<line x1="516.3" y1="723.7" x2="516.3" y2="721.9" stroke="#333" stroke-width="0.9"/>
<line x1="516.3" y1="554.4" x2="516.3" y2="556.2" stroke="#333" stroke-width="0.9"/>
<line x1="524.06" y1="723.7" x2="524.06" y2="721.9" stroke="#333" stroke-width="0.9"/>
<line x1="524.06" y1="554.4" x2="524.06" y2="556.2" stroke="#333" stroke-width="0.9"/>
<line x1="531.82" y1="723.7" x2="531.82" y2="721.9" stroke="#333" stroke-width="0.9"/>
<line x1="531.82" y1="554.4" x2="531.82" y2="556.2" stroke="#333" stroke-width="0.9"/>
<line x1="539.58" y1="723.7" x2="539.58" y2="721.9" stroke="#333" stroke-width="0.9"/>
<line x1="539.58" y1="554.4" x2="539.58" y2="556.2" stroke="#333" stroke-width="0.9"/>
<line x1="547.34" y1="723.7" x2="547.34" y2="721.9" stroke="#333" stroke-width="0.9"/>
<line x1="547.34" y1="554.4" x2="547.34" y2="556.2" stroke="#333" stroke-width="0.9"/>
<line x1="555.1" y1="723.7" x2="555.1" y2="721.9" stroke="#333" stroke-width="0.9"/>
<line x1="555.1" y1="554.4" x2="555.1" y2="556.2" stroke="#333" stroke-width="0.9"/>
<line x1="562.86" y1="723.7" x2="562.86" y2="721.9" stroke="#333" stroke-width="0.9"/>
<line x1="562.86" y1="554.4" x2="562.86" y2="556.2" stroke="#333" stroke-width="0.9"/>
<line x1="570.62" y1="723.7" x2="570.62" y2="721.9" stroke="#333" stroke-width="0.9"/>
<line x1="570.62" y1="554.4" x2="570.62" y2="556.2" stroke="#333" stroke-width="0.9"/>
<line x1="578.38" y1="723.7" x2="578.38" y2="721.9" stroke="#333" stroke-width="0.9"/>
<line x1="578.38" y1="554.4" x2="578.38" y2="556.2" stroke="#333" stroke-width="0.9"/>
<line x1="586.14" y1="723.7" x2="586.14" y2="721.9" stroke="#333" stroke-width="0.9"/>
<line x1="586.14" y1="554.4" x2="586.14" y2="556.2" stroke="#333" stroke-width="0.9"/>
<line x1="593.9" y1="723.7" x2="593.9" y2="721.9" stroke="#333" stroke-width="0.9"/>
<line x1="593.9" y1="554.4" x2="593.9" y2="556.2" stroke="#333" stroke-width="0.9"/>
<line x1="601.66" y1="723.7" x2="601.66" y2="721.9" stroke="#333" stroke-width="0.9"/>
<line x1="601.66" y1="554.4" x2="601.66" y2="556.2" stroke="#333" stroke-width="0.9"/>
<line x1="609.42" y1="723.7" x2="609.42" y2="721.9" stroke="#333" stroke-width="0.9"/>
<line x1="609.42" y1="554.4" x2="609.42" y2="556.2" stroke="#333" stroke-width="0.9"/>
<line x1="617.18" y1="723.7" x2="617.18" y2="721.9" stroke="#333" stroke-width="0.9"/>
<line x1="617.18" y1="554.4" x2="617.18" y2="556.2" stroke="#333" stroke-width="0.9"/>
<line x1="624.94" y1="723.7" x2="624.94" y2="721.9" stroke="#333" stroke-width="0.9"/>
<line x1="624.94" y1="554.4" x2="624.94" y2="556.2" stroke="#333" stroke-width="0.9"/>
<line x1="632.7" y1="723.7" x2="632.7" y2="721.9" stroke="#333" stroke-width="0.9"/>
<line x1="632.7" y1="554.4" x2="632.7" y2="556.2" stroke="#333" stroke-width="0.9"/>
<line x1="640.46" y1="723.7" x2="640.46" y2="721.9" stroke="#333" stroke-width="0.9"/>
<line x1="640.46" y1="554.4" x2="640.46" y2="556.2" stroke="#333" stroke-width="0.9"/>
<line x1="514" y1="719.34" x2="515.8" y2="719.34" stroke="#333" stroke-width="0.9"/>
<line x1="647.7" y1="719.34" x2="645.9" y2="719.34" stroke="#333" stroke-width="0.9"/>
<line x1="514" y1="714.51" x2="515.8" y2="714.51" stroke="#333" stroke-width="0.9"/>
<line x1="647.7" y1="714.51" x2="645.9" y2="714.51" stroke="#333" stroke-width="0.9"/>
<line x1="514" y1="709.67" x2="515.8" y2="709.67" stroke="#333" stroke-width="0.9"/>
<line x1="647.7" y1="709.67" x2="645.9" y2="709.67" stroke="#333" stroke-width="0.9"/>
<line x1="514" y1="704.84" x2="515.8" y2="704.84" stroke="#333" stroke-width="0.9"/>
<line x1="647.7" y1="704.84" x2="645.9" y2="704.84" stroke="#333" stroke-width="0.9"/>
<line x1="514" y1="700" x2="515.8" y2="700" stroke="#333" stroke-width="0.9"/>
<line x1="647.7" y1="700" x2="645.9" y2="700" stroke="#333" stroke-width="0.9"/>
<line x1="514" y1="695.16" x2="515.8" y2="695.16" stroke="#333" stroke-width="0.9"/>
<line x1="647.7" y1="695.16" x2="645.9" y2="695.16" stroke="#333" stroke-width="0.9"/>
<line x1="514" y1="690.33" x2="515.8" y2="690.33" stroke="#333" stroke-width="0.9"/>
<line x1="647.7" y1="690.33" x2="645.9" y2="690.33" stroke="#333" stroke-width="0.9"/>
<line x1="514" y1="685.49" x2="515.8" y2="685.49" stroke="#333" stroke-width="0.9"/>
<line x1="647.7" y1="685.49" x2="645.9" y2="685.49" stroke="#333" stroke-width="0.9"/>
<line x1="514" y1="680.66" x2="515.8" y2="680.66" stroke="#333" stroke-width="0.9"/>
<line x1="647.7" y1="680.66" x2="645.9" y2="680.66" stroke="#333" stroke-width="0.9"/>
<line x1="514" y1="675.82" x2="515.8" y2="675.82" stroke="#333" stroke-width="0.9"/>
<line x1="647.7" y1="675.82" x2="645.9" y2="675.82" stroke="#333" stroke-width="0.9"/>
<line x1="514" y1="670.98" x2="515.8" y2="670.98" stroke="#333" stroke-width="0.9"/>
<line x1="647.7" y1="670.98" x2="645.9" y2="670.98" stroke="#333" stroke-width="0.9"/>
<line x1="514" y1="666.15" x2="515.8" y2="666.15" stroke="#333" stroke-width="0.9"/>
<line x1="647.7" y1="666.15" x2="645.9" y2="666.15" stroke="#333" stroke-width="0.9"/>
<line x1="514" y1="661.31" x2="515.8" y2="661.31" stroke="#333" stroke-width="0.9"/>
<line x1="647.7" y1="661.31" x2="645.9" y2="661.31" stroke="#333" stroke-width="0.9"/>
<line x1="514" y1="656.48" x2="515.8" y2="656.48" stroke="#333" stroke-width="0.9"/>
<line x1="647.7" y1="656.48" x2="645.9" y2="656.48" stroke="#333" stroke-width="0.9"/>
<line x1="514" y1="651.64" x2="515.8" y2="651.64" stroke="#333" stroke-width="0.9"/>
<line x1="647.7" y1="651.64" x2="645.9" y2="651.64" stroke="#333" stroke-width="0.9"/>
<line x1="514" y1="646.8" x2="515.8" y2="646.8" stroke="#333" stroke-width="0.9"/>
<line x1="647.7" y1="646.8" x2="645.9" y2="646.8" stroke="#333" stroke-width="0.9"/>
<line x1="514" y1="641.97" x2="515.8" y2="641.97" stroke="#333" stroke-width="0.9"/>
<line x1="647.7" y1="641.97" x2="645.9" y2="641.97" stroke="#333" stroke-width="0.9"/>
<line x1="514" y1="637.13" x2="515.8" y2="637.13" stroke="#333" stroke-width="0.9"/>
<line x1="647.7" y1="637.13" x2="645.9" y2="637.13" stroke="#333" stroke-width="0.9"/>
<line x1="514" y1="632.3" x2="515.8" y2="632.3" stroke="#333" stroke-width="0.9"/>
<line x1="647.7" y1="632.3" x2="645.9" y2="632.3" stroke="#333" stroke-width="0.9"/>
<line x1="514" y1="627.46" x2="515.8" y2="627.46" stroke="#333" stroke-width="0.9"/>
<line x1="647.7" y1="627.46" x2="645.9" y2="627.46" stroke="#333" stroke-width="0.9"/>
<line x1="514" y1="622.62" x2="515.8" y2="622.62" stroke="#333" stroke-width="0.9"/>
<line x1="647.7" y1="622.62" x2="645.9" y2="622.62" stroke="#333" stroke-width="0.9"/>
<line x1="514" y1="617.79" x2="515.8" y2="617.79" stroke="#333" stroke-width="0.9"/>
<line x1="647.7" y1="617.79" x2="645.9" y2="617.79" stroke="#333" stroke-width="0.9"/>
<line x1="514" y1="612.95" x2="515.8" y2="612.95" stroke="#333" stroke-width="0.9"/>
<line x1="647.7" y1="612.95" x2="645.9" y2="612.95" stroke="#333" stroke-width="0.9"/>
<line x1="514" y1="608.12" x2="515.8" y2="608.12" stroke="#333" stroke-width="0.9"/>
<line x1="647.7" y1="608.12" x2="645.9" y2="608.12" stroke="#333" stroke-width="0.9"/>
<line x1="514" y1="603.28" x2="515.8" y2="603.28" stroke="#333" stroke-width="0.9"/>
<line x1="647.7" y1="603.28" x2="645.9" y2="603.28" stroke="#333" stroke-width="0.9"/>
<line x1="514" y1="598.44" x2="515.8" y2="598.44" stroke="#333" stroke-width="0.9"/>
<line x1="647.7" y1="598.44" x2="645.9" y2="598.44" stroke="#333" stroke-width="0.9"/>
<line x1="514" y1="593.61" x2="515.8" y2="593.61" stroke="#333" stroke-width="0.9"/>
<line x1="647.7" y1="593.61" x2="645.9" y2="593.61" stroke="#333" stroke-width="0.9"/>
<line x1="514" y1="588.77" x2="515.8" y2="588.77" stroke="#333" stroke-width="0.9"/>
<line x1="647.7" y1="588.77" x2="645.9" y2="588.77" stroke="#333" stroke-width="0.9"/>
<line x1="514" y1="583.94" x2="515.8" y2="583.94" stroke="#333" stroke-width="0.9"/>
<line x1="647.7" y1="583.94" x2="645.9" y2="583.94" stroke="#333" stroke-width="0.9"/>
<line x1="514" y1="579.1" x2="515.8" y2="579.1" stroke="#333" stroke-width="0.9"/>
<line x1="647.7" y1="579.1" x2="645.9" y2="579.1" stroke="#333" stroke-width="0.9"/>
<line x1="514" y1="574.26" x2="515.8" y2="574.26" stroke="#333" stroke-width="0.9"/>
<line x1="647.7" y1="574.26" x2="645.9" y2="574.26" stroke="#333" stroke-width="0.9"/>
<line x1="514" y1="569.43" x2="515.8" y2="569.43" stroke="#333" stroke-width="0.9"/>
<line x1="647.7" y1="569.43" x2="645.9" y2="569.43" stroke="#333" stroke-width="0.9"/>
<line x1="514" y1="564.59" x2="515.8" y2="564.59" stroke="#333" stroke-width="0.9"/>
<line x1="647.7" y1="564.59" x2="645.9" y2="564.59" stroke="#333" stroke-width="0.9"/>
<line x1="514" y1="559.76" x2="515.8" y2="559.76" stroke="#333" stroke-width="0.9"/>
<line x1="647.7" y1="559.76" x2="645.9" y2="559.76" stroke="#333" stroke-width="0.9"/>
<line x1="514" y1="554.92" x2="515.8" y2="554.92" stroke="#333" stroke-width="0.9"/>
<line x1="647.7" y1="554.92" x2="645.9" y2="554.92" stroke="#333" stroke-width="0.9"/>
<path d="M512.3,714.5 L513.2,709.5 L514.7,703.7 L516.3,697.4 L517.6,691.6 L519,688.4 L521.1,685.3 L524.2,684.8 L526.9,686.1 L526.4,693.2 L525.9,698.5 L525.9,703.7 L525.3,708.5 L523.2,711.1 L519.5,711.1 L517.9,711.6 L516.9,713.8 L516,716.5 L513,716.8 Z M522.9,694.6 L523.9,697 L523.4,702 L522,706.8 L519.9,708.2 L519.7,703 L520.9,697.3 Z" fill="#000" fill-rule="evenodd" stroke="#000" stroke-width="0.6" stroke-linejoin="round"/>
<path d="M524.2,686.2 L528,687.2 L531,687.6 L533.2,688.4" fill="none" stroke="#000" stroke-width="2.6" stroke-linejoin="round" stroke-linecap="round" />
<path d="M537.3,692.6 L538.3,690.2 L541,689.2 L543.6,690.1 L544.6,692.4 L543.6,694.6 L541,695.3 L538.3,694.6 L537.3,692.6" fill="none" stroke="#000" stroke-width="3.2" stroke-linejoin="round" stroke-linecap="round" />
<path d="M533.4,691.8 L535,694.5 L538,695.8" fill="none" stroke="#000" stroke-width="3.4" stroke-linejoin="round" stroke-linecap="round" />
<path d="M543.6,694.8 L546.5,694.5 L548.2,691.8 L548.6,689 L547.4,687.4 L545.6,687.6 L544.5,689" fill="none" stroke="#000" stroke-width="3.2" stroke-linejoin="round" stroke-linecap="round" />
<path d="M548.8,688.5 L550.6,685 L549.4,682 L549.6,679 L551.8,676.6 L553.5,674.2 L554.2,672.2 L556.8,670.8 L560.4,668.6 L563.4,667.5 L565.5,665.7 L567.7,663.8 L568.2,660.5 L568.5,656.9 L569.9,654 L571.4,651.1 L572.8,648.1 L573.6,645.2 L574.3,643 L575.8,639.4 L577.2,636.5" fill="none" stroke="#000" stroke-width="3.6" stroke-linejoin="round" stroke-linecap="round" />
<circle cx="568.9" cy="664.6" r="2.0" fill="#000"/>
<circle cx="513.8" cy="714.8" r="2.4" fill="#000"/>
<circle cx="575.1" cy="641" r="1.7" fill="#000"/>
<circle cx="575.7" cy="638.4" r="1.7" fill="#000"/>
<circle cx="576.6" cy="635" r="1.7" fill="#000"/>
<circle cx="577" cy="632" r="1.7" fill="#000"/>
<circle cx="578.3" cy="629.4" r="1.7" fill="#000"/>
<circle cx="579.7" cy="626.2" r="1.7" fill="#000"/>
<circle cx="581.2" cy="624.6" r="1.7" fill="#000"/>
<circle cx="582.6" cy="623.2" r="1.7" fill="#000"/>
<circle cx="581.3" cy="620" r="1.7" fill="#000"/>
<circle cx="580.9" cy="617" r="1.7" fill="#000"/>
<circle cx="581.6" cy="615.3" r="1.7" fill="#000"/>
<circle cx="582.6" cy="613.6" r="1.7" fill="#000"/>
<circle cx="582.1" cy="610.6" r="1.7" fill="#000"/>
<circle cx="583" cy="607.6" r="1.7" fill="#000"/>
<circle cx="585.6" cy="605" r="1.7" fill="#000"/>
<circle cx="584.3" cy="602.2" r="1.7" fill="#000"/>
<circle cx="586.4" cy="599.4" r="1.7" fill="#000"/>
<circle cx="589.4" cy="596.9" r="1.7" fill="#000"/>
<circle cx="588.1" cy="594.3" r="1.7" fill="#000"/>
<circle cx="589.9" cy="592.1" r="1.7" fill="#000"/>
<circle cx="590.7" cy="590" r="1.7" fill="#000"/>
<circle cx="592.2" cy="588.7" r="1.7" fill="#000"/>
<circle cx="593.7" cy="587.4" r="1.7" fill="#000"/>
<circle cx="593.7" cy="585.3" r="1.7" fill="#000"/>
<circle cx="595" cy="583.1" r="1.7" fill="#000"/>
<circle cx="596.7" cy="581" r="1.7" fill="#000"/>
<circle cx="598" cy="580" r="1.7" fill="#000"/>
<circle cx="599.3" cy="579.3" r="1.7" fill="#000"/>
<circle cx="601" cy="578.7" r="1.7" fill="#000"/>
<circle cx="602.7" cy="578.4" r="1.7" fill="#000"/>
<circle cx="604.4" cy="578.4" r="1.7" fill="#000"/>
<circle cx="606.1" cy="578.7" r="1.7" fill="#000"/>
<circle cx="607.1" cy="578.9" r="1.7" fill="#000"/>
<circle cx="608.7" cy="580.6" r="1.7" fill="#000"/>
<circle cx="609.5" cy="581.1" r="1.7" fill="#000"/>
<circle cx="611.1" cy="581.9" r="1.7" fill="#000"/>
<circle cx="612.7" cy="582.7" r="1.7" fill="#000"/>
<circle cx="614.3" cy="583.8" r="1.7" fill="#000"/>
<circle cx="615.8" cy="585" r="1.7" fill="#000"/>
<circle cx="617" cy="586" r="1.7" fill="#000"/>
<circle cx="618.2" cy="587" r="1.7" fill="#000"/>
<circle cx="618.2" cy="589.4" r="1.7" fill="#000"/>
<circle cx="621.4" cy="591.4" r="1.7" fill="#000"/>
<circle cx="624.9" cy="593.7" r="1.7" fill="#000"/>
<circle cx="626.9" cy="596.5" r="1.7" fill="#000"/>
<circle cx="629.7" cy="599.3" r="1.7" fill="#000"/>
<circle cx="630.5" cy="602" r="1.7" fill="#000"/>
<circle cx="633.6" cy="604.8" r="1.7" fill="#000"/>
<circle cx="636.4" cy="608" r="1.7" fill="#000"/>
<circle cx="638.8" cy="611.1" r="1.7" fill="#000"/>
<circle cx="641.1" cy="614.3" r="1.7" fill="#000"/>
<circle cx="643.4" cy="617.5" r="1.7" fill="#000"/>
<circle cx="645.3" cy="620.6" r="1.7" fill="#000"/>
<circle cx="647.9" cy="623.8" r="1.7" fill="#000"/>
<line x1="514" y1="711.2" x2="647.7" y2="562.4" stroke="#9a9a9a" stroke-width="0.8"/>
<rect x="514" y="554.4" width="133.7" height="169.3" fill="none" stroke="#333" stroke-width="1.1"/>
<text x="506.2" y="564.4" font-size="11" text-anchor="end" fill="#1a1a1a" >2.30</text>
<text x="506.2" y="585.9" font-size="11" text-anchor="end" fill="#1a1a1a" >2.25</text>
<text x="506.2" y="610.08" font-size="11" text-anchor="end" fill="#1a1a1a" >2.20</text>
<text x="506.2" y="634.26" font-size="11" text-anchor="end" fill="#1a1a1a" >2.15</text>
<text x="506.2" y="658.44" font-size="11" text-anchor="end" fill="#1a1a1a" >2.10</text>
<text x="506.2" y="682.62" font-size="11" text-anchor="end" fill="#1a1a1a" >2.05</text>
<text x="506.2" y="706.8" font-size="11" text-anchor="end" fill="#1a1a1a" >2.00</text>
<text x="514.8" y="739.3" font-size="11" text-anchor="middle" fill="#1a1a1a" >3</text>
<text x="553.4" y="739.3" font-size="11" text-anchor="middle" fill="#1a1a1a" >4</text>
<text x="589.8" y="739.3" font-size="11" text-anchor="middle" fill="#1a1a1a" >5</text>
<text x="627" y="739.3" font-size="11" text-anchor="middle" fill="#1a1a1a" >6</text>
<text x="639" y="744.6" font-size="13.2" text-anchor="start" fill="#1a1a1a" >x10</text>
<text x="659.6" y="734.6" font-size="7.2" text-anchor="start" fill="#1a1a1a" >-3</text>
<text x="582.3" y="754.9" font-size="11.5" text-anchor="middle" fill="#1a1a1a" >Optical, F(R)</text>
<text x="0" y="0" font-size="12" text-anchor="middle" fill="#1a1a1a" transform="translate(470,623.2) rotate(-90)">PA (a.u.)</text>
<text x="519.4" y="572.6" font-size="11.3" text-anchor="start" fill="#1a1a1a" >R&#178; = 0.85</text>
<text x="465.6" y="552" font-size="16" text-anchor="start" fill="#1a1a1a" >(g)</text>
</svg>
</body></html>
